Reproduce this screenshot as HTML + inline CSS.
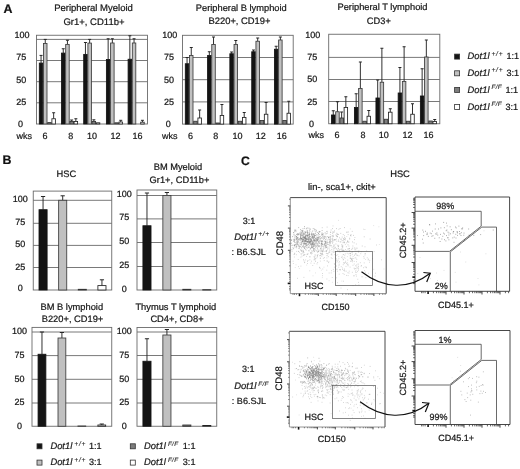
<!DOCTYPE html>
<html><head><meta charset="utf-8"><title>Figure</title>
<style>html,body{margin:0;padding:0;background:#fff}svg{display:block}text{font-family:"Liberation Sans",Arial,Helvetica,sans-serif;stroke:#1a1a1a;stroke-width:0.22px;text-rendering:geometricPrecision}</style>
</head><body>
<svg width="520" height="469" viewBox="0 0 520 469">
<rect width="520" height="469" fill="#fff"/>
<line x1="36.50" y1="39.40" x2="147.50" y2="39.40" stroke="#6a6a6a" stroke-width="0.9"/>
<line x1="36.50" y1="60.50" x2="147.50" y2="60.50" stroke="#6a6a6a" stroke-width="0.9"/>
<line x1="36.50" y1="81.70" x2="147.50" y2="81.70" stroke="#6a6a6a" stroke-width="0.9"/>
<line x1="36.50" y1="102.80" x2="147.50" y2="102.80" stroke="#6a6a6a" stroke-width="0.9"/>
<rect x="36.50" y="35.25" width="111.00" height="88.75" fill="none" stroke="#6a6a6a" stroke-width="0.9"/>
<line x1="41.05" y1="55.40" x2="41.05" y2="63.10" stroke="#262626" stroke-width="0.95"/>
<line x1="39.55" y1="55.40" x2="42.55" y2="55.40" stroke="#262626" stroke-width="1.0"/>
<rect x="39.30" y="63.10" width="3.50" height="60.90" fill="#141414" stroke="#141414" stroke-width="0.85"/>
<line x1="45.25" y1="39.40" x2="45.25" y2="43.50" stroke="#262626" stroke-width="0.95"/>
<line x1="43.75" y1="39.40" x2="46.75" y2="39.40" stroke="#262626" stroke-width="1.0"/>
<rect x="43.50" y="43.50" width="3.50" height="80.50" fill="#c0c0c0" stroke="#3c3c3c" stroke-width="0.85"/>
<rect x="47.70" y="122.60" width="3.50" height="1.40" fill="#7d7d7d" stroke="#333" stroke-width="0.85"/>
<line x1="53.65" y1="112.75" x2="53.65" y2="118.75" stroke="#262626" stroke-width="0.95"/>
<line x1="52.15" y1="112.75" x2="55.15" y2="112.75" stroke="#262626" stroke-width="1.0"/>
<rect x="51.90" y="118.75" width="3.50" height="5.25" fill="#ffffff" stroke="#222" stroke-width="0.85"/>
<line x1="63.25" y1="48.75" x2="63.25" y2="53.10" stroke="#262626" stroke-width="0.95"/>
<line x1="61.75" y1="48.75" x2="64.75" y2="48.75" stroke="#262626" stroke-width="1.0"/>
<rect x="61.50" y="53.10" width="3.50" height="70.90" fill="#141414" stroke="#141414" stroke-width="0.85"/>
<line x1="67.45" y1="40.25" x2="67.45" y2="44.40" stroke="#262626" stroke-width="0.95"/>
<line x1="65.95" y1="40.25" x2="68.95" y2="40.25" stroke="#262626" stroke-width="1.0"/>
<rect x="65.70" y="44.40" width="3.50" height="79.60" fill="#c0c0c0" stroke="#3c3c3c" stroke-width="0.85"/>
<line x1="71.65" y1="120.00" x2="71.65" y2="121.50" stroke="#262626" stroke-width="0.95"/>
<line x1="70.15" y1="120.00" x2="73.15" y2="120.00" stroke="#262626" stroke-width="1.0"/>
<rect x="69.90" y="121.50" width="3.50" height="2.50" fill="#7d7d7d" stroke="#333" stroke-width="0.85"/>
<line x1="75.85" y1="118.75" x2="75.85" y2="121.50" stroke="#262626" stroke-width="0.95"/>
<line x1="74.35" y1="118.75" x2="77.35" y2="118.75" stroke="#262626" stroke-width="1.0"/>
<rect x="74.10" y="121.50" width="3.50" height="2.50" fill="#ffffff" stroke="#222" stroke-width="0.85"/>
<line x1="85.45" y1="42.50" x2="85.45" y2="54.40" stroke="#262626" stroke-width="0.95"/>
<line x1="83.95" y1="42.50" x2="86.95" y2="42.50" stroke="#262626" stroke-width="1.0"/>
<rect x="83.70" y="54.40" width="3.50" height="69.60" fill="#141414" stroke="#141414" stroke-width="0.85"/>
<line x1="89.65" y1="39.40" x2="89.65" y2="43.10" stroke="#262626" stroke-width="0.95"/>
<line x1="88.15" y1="39.40" x2="91.15" y2="39.40" stroke="#262626" stroke-width="1.0"/>
<rect x="87.90" y="43.10" width="3.50" height="80.90" fill="#c0c0c0" stroke="#3c3c3c" stroke-width="0.85"/>
<line x1="93.85" y1="119.80" x2="93.85" y2="121.50" stroke="#262626" stroke-width="0.95"/>
<line x1="92.35" y1="119.80" x2="95.35" y2="119.80" stroke="#262626" stroke-width="1.0"/>
<rect x="92.10" y="121.50" width="3.50" height="2.50" fill="#7d7d7d" stroke="#333" stroke-width="0.85"/>
<rect x="96.30" y="122.80" width="3.50" height="1.20" fill="#ffffff" stroke="#222" stroke-width="0.85"/>
<line x1="108.15" y1="38.75" x2="108.15" y2="59.50" stroke="#262626" stroke-width="0.95"/>
<line x1="106.65" y1="38.75" x2="109.65" y2="38.75" stroke="#262626" stroke-width="1.0"/>
<rect x="106.40" y="59.50" width="3.50" height="64.50" fill="#141414" stroke="#141414" stroke-width="0.85"/>
<line x1="112.35" y1="38.75" x2="112.35" y2="43.00" stroke="#262626" stroke-width="0.95"/>
<line x1="110.85" y1="38.75" x2="113.85" y2="38.75" stroke="#262626" stroke-width="1.0"/>
<rect x="110.60" y="43.00" width="3.50" height="81.00" fill="#c0c0c0" stroke="#3c3c3c" stroke-width="0.85"/>
<rect x="114.80" y="122.80" width="3.50" height="1.20" fill="#7d7d7d" stroke="#333" stroke-width="0.85"/>
<line x1="120.75" y1="120.30" x2="120.75" y2="122.00" stroke="#262626" stroke-width="0.95"/>
<line x1="119.25" y1="120.30" x2="122.25" y2="120.30" stroke="#262626" stroke-width="1.0"/>
<rect x="119.00" y="122.00" width="3.50" height="2.00" fill="#ffffff" stroke="#222" stroke-width="0.85"/>
<line x1="129.85" y1="35.75" x2="129.85" y2="59.25" stroke="#262626" stroke-width="0.95"/>
<line x1="128.35" y1="35.75" x2="131.35" y2="35.75" stroke="#262626" stroke-width="1.0"/>
<rect x="128.10" y="59.25" width="3.50" height="64.75" fill="#141414" stroke="#141414" stroke-width="0.85"/>
<line x1="134.05" y1="38.75" x2="134.05" y2="43.00" stroke="#262626" stroke-width="0.95"/>
<line x1="132.55" y1="38.75" x2="135.55" y2="38.75" stroke="#262626" stroke-width="1.0"/>
<rect x="132.30" y="43.00" width="3.50" height="81.00" fill="#c0c0c0" stroke="#3c3c3c" stroke-width="0.85"/>
<line x1="142.45" y1="120.30" x2="142.45" y2="122.20" stroke="#262626" stroke-width="0.95"/>
<line x1="140.95" y1="120.30" x2="143.95" y2="120.30" stroke="#262626" stroke-width="1.0"/>
<rect x="140.70" y="122.20" width="3.50" height="1.80" fill="#ffffff" stroke="#222" stroke-width="0.85"/>
<line x1="182.50" y1="57.50" x2="293.20" y2="57.50" stroke="#6a6a6a" stroke-width="0.9"/>
<line x1="182.50" y1="79.70" x2="293.20" y2="79.70" stroke="#6a6a6a" stroke-width="0.9"/>
<line x1="182.50" y1="101.90" x2="293.20" y2="101.90" stroke="#6a6a6a" stroke-width="0.9"/>
<rect x="182.50" y="35.30" width="110.70" height="88.80" fill="none" stroke="#6a6a6a" stroke-width="0.9"/>
<line x1="187.05" y1="57.50" x2="187.05" y2="63.75" stroke="#262626" stroke-width="0.95"/>
<line x1="185.55" y1="57.50" x2="188.55" y2="57.50" stroke="#262626" stroke-width="1.0"/>
<rect x="185.30" y="63.75" width="3.50" height="60.35" fill="#141414" stroke="#141414" stroke-width="0.85"/>
<line x1="191.25" y1="47.50" x2="191.25" y2="55.50" stroke="#262626" stroke-width="0.95"/>
<line x1="189.75" y1="47.50" x2="192.75" y2="47.50" stroke="#262626" stroke-width="1.0"/>
<rect x="189.50" y="55.50" width="3.50" height="68.60" fill="#c0c0c0" stroke="#3c3c3c" stroke-width="0.85"/>
<rect x="193.70" y="121.25" width="3.50" height="2.85" fill="#7d7d7d" stroke="#333" stroke-width="0.85"/>
<line x1="199.65" y1="110.00" x2="199.65" y2="118.00" stroke="#262626" stroke-width="0.95"/>
<line x1="198.15" y1="110.00" x2="201.15" y2="110.00" stroke="#262626" stroke-width="1.0"/>
<rect x="197.90" y="118.00" width="3.50" height="6.10" fill="#ffffff" stroke="#222" stroke-width="0.85"/>
<line x1="209.33" y1="51.75" x2="209.33" y2="55.50" stroke="#262626" stroke-width="0.95"/>
<line x1="207.83" y1="51.75" x2="210.83" y2="51.75" stroke="#262626" stroke-width="1.0"/>
<rect x="207.58" y="55.50" width="3.50" height="68.60" fill="#141414" stroke="#141414" stroke-width="0.85"/>
<line x1="213.53" y1="37.00" x2="213.53" y2="44.50" stroke="#262626" stroke-width="0.95"/>
<line x1="212.03" y1="37.00" x2="215.03" y2="37.00" stroke="#262626" stroke-width="1.0"/>
<rect x="211.78" y="44.50" width="3.50" height="79.60" fill="#c0c0c0" stroke="#3c3c3c" stroke-width="0.85"/>
<rect x="215.98" y="123.00" width="3.50" height="1.10" fill="#7d7d7d" stroke="#333" stroke-width="0.85"/>
<line x1="221.93" y1="104.50" x2="221.93" y2="115.50" stroke="#262626" stroke-width="0.95"/>
<line x1="220.43" y1="104.50" x2="223.43" y2="104.50" stroke="#262626" stroke-width="1.0"/>
<rect x="220.18" y="115.50" width="3.50" height="8.60" fill="#ffffff" stroke="#222" stroke-width="0.85"/>
<line x1="231.61" y1="52.00" x2="231.61" y2="53.75" stroke="#262626" stroke-width="0.95"/>
<line x1="230.11" y1="52.00" x2="233.11" y2="52.00" stroke="#262626" stroke-width="1.0"/>
<rect x="229.86" y="53.75" width="3.50" height="70.35" fill="#141414" stroke="#141414" stroke-width="0.85"/>
<line x1="235.81" y1="40.50" x2="235.81" y2="44.50" stroke="#262626" stroke-width="0.95"/>
<line x1="234.31" y1="40.50" x2="237.31" y2="40.50" stroke="#262626" stroke-width="1.0"/>
<rect x="234.06" y="44.50" width="3.50" height="79.60" fill="#c0c0c0" stroke="#3c3c3c" stroke-width="0.85"/>
<rect x="238.26" y="121.25" width="3.50" height="2.85" fill="#7d7d7d" stroke="#333" stroke-width="0.85"/>
<line x1="244.21" y1="112.50" x2="244.21" y2="117.50" stroke="#262626" stroke-width="0.95"/>
<line x1="242.71" y1="112.50" x2="245.71" y2="112.50" stroke="#262626" stroke-width="1.0"/>
<rect x="242.46" y="117.50" width="3.50" height="6.60" fill="#ffffff" stroke="#222" stroke-width="0.85"/>
<line x1="253.49" y1="50.00" x2="253.49" y2="51.75" stroke="#262626" stroke-width="0.95"/>
<line x1="251.99" y1="50.00" x2="254.99" y2="50.00" stroke="#262626" stroke-width="1.0"/>
<rect x="251.74" y="51.75" width="3.50" height="72.35" fill="#141414" stroke="#141414" stroke-width="0.85"/>
<line x1="257.69" y1="38.00" x2="257.69" y2="41.25" stroke="#262626" stroke-width="0.95"/>
<line x1="256.19" y1="38.00" x2="259.19" y2="38.00" stroke="#262626" stroke-width="1.0"/>
<rect x="255.94" y="41.25" width="3.50" height="82.85" fill="#c0c0c0" stroke="#3c3c3c" stroke-width="0.85"/>
<rect x="260.14" y="120.50" width="3.50" height="3.60" fill="#7d7d7d" stroke="#333" stroke-width="0.85"/>
<line x1="266.09" y1="102.50" x2="266.09" y2="114.25" stroke="#262626" stroke-width="0.95"/>
<line x1="264.59" y1="102.50" x2="267.59" y2="102.50" stroke="#262626" stroke-width="1.0"/>
<rect x="264.34" y="114.25" width="3.50" height="9.85" fill="#ffffff" stroke="#222" stroke-width="0.85"/>
<line x1="276.17" y1="46.25" x2="276.17" y2="49.25" stroke="#262626" stroke-width="0.95"/>
<line x1="274.67" y1="46.25" x2="277.67" y2="46.25" stroke="#262626" stroke-width="1.0"/>
<rect x="274.42" y="49.25" width="3.50" height="74.85" fill="#141414" stroke="#141414" stroke-width="0.85"/>
<line x1="280.37" y1="37.00" x2="280.37" y2="40.00" stroke="#262626" stroke-width="0.95"/>
<line x1="278.87" y1="37.00" x2="281.87" y2="37.00" stroke="#262626" stroke-width="1.0"/>
<rect x="278.62" y="40.00" width="3.50" height="84.10" fill="#c0c0c0" stroke="#3c3c3c" stroke-width="0.85"/>
<rect x="282.82" y="120.50" width="3.50" height="3.60" fill="#7d7d7d" stroke="#333" stroke-width="0.85"/>
<line x1="288.77" y1="101.25" x2="288.77" y2="113.25" stroke="#262626" stroke-width="0.95"/>
<line x1="287.27" y1="101.25" x2="290.27" y2="101.25" stroke="#262626" stroke-width="1.0"/>
<rect x="287.02" y="113.25" width="3.50" height="10.85" fill="#ffffff" stroke="#222" stroke-width="0.85"/>
<line x1="328.70" y1="57.40" x2="439.80" y2="57.40" stroke="#6a6a6a" stroke-width="0.9"/>
<line x1="328.70" y1="79.50" x2="439.80" y2="79.50" stroke="#6a6a6a" stroke-width="0.9"/>
<line x1="328.70" y1="101.50" x2="439.80" y2="101.50" stroke="#6a6a6a" stroke-width="0.9"/>
<rect x="328.70" y="34.25" width="111.10" height="89.50" fill="none" stroke="#6a6a6a" stroke-width="0.9"/>
<line x1="333.25" y1="110.75" x2="333.25" y2="115.00" stroke="#262626" stroke-width="0.95"/>
<line x1="331.75" y1="110.75" x2="334.75" y2="110.75" stroke="#262626" stroke-width="1.0"/>
<rect x="331.50" y="115.00" width="3.50" height="8.75" fill="#141414" stroke="#141414" stroke-width="0.85"/>
<line x1="337.45" y1="101.75" x2="337.45" y2="111.75" stroke="#262626" stroke-width="0.95"/>
<line x1="335.95" y1="101.75" x2="338.95" y2="101.75" stroke="#262626" stroke-width="1.0"/>
<rect x="335.70" y="111.75" width="3.50" height="12.00" fill="#c0c0c0" stroke="#3c3c3c" stroke-width="0.85"/>
<line x1="341.65" y1="112.00" x2="341.65" y2="118.00" stroke="#262626" stroke-width="0.95"/>
<line x1="340.15" y1="112.00" x2="343.15" y2="112.00" stroke="#262626" stroke-width="1.0"/>
<rect x="339.90" y="118.00" width="3.50" height="5.75" fill="#7d7d7d" stroke="#333" stroke-width="0.85"/>
<line x1="345.85" y1="96.75" x2="345.85" y2="107.50" stroke="#262626" stroke-width="0.95"/>
<line x1="344.35" y1="96.75" x2="347.35" y2="96.75" stroke="#262626" stroke-width="1.0"/>
<rect x="344.10" y="107.50" width="3.50" height="16.25" fill="#ffffff" stroke="#222" stroke-width="0.85"/>
<line x1="356.17" y1="93.75" x2="356.17" y2="107.50" stroke="#262626" stroke-width="0.95"/>
<line x1="354.67" y1="93.75" x2="357.67" y2="93.75" stroke="#262626" stroke-width="1.0"/>
<rect x="354.42" y="107.50" width="3.50" height="16.25" fill="#141414" stroke="#141414" stroke-width="0.85"/>
<line x1="360.37" y1="62.00" x2="360.37" y2="88.50" stroke="#262626" stroke-width="0.95"/>
<line x1="358.87" y1="62.00" x2="361.87" y2="62.00" stroke="#262626" stroke-width="1.0"/>
<rect x="358.62" y="88.50" width="3.50" height="35.25" fill="#c0c0c0" stroke="#3c3c3c" stroke-width="0.85"/>
<rect x="362.82" y="121.25" width="3.50" height="2.50" fill="#7d7d7d" stroke="#333" stroke-width="0.85"/>
<line x1="368.77" y1="110.50" x2="368.77" y2="116.25" stroke="#262626" stroke-width="0.95"/>
<line x1="367.27" y1="110.50" x2="370.27" y2="110.50" stroke="#262626" stroke-width="1.0"/>
<rect x="367.02" y="116.25" width="3.50" height="7.50" fill="#ffffff" stroke="#222" stroke-width="0.85"/>
<line x1="377.69" y1="80.00" x2="377.69" y2="98.00" stroke="#262626" stroke-width="0.95"/>
<line x1="376.19" y1="80.00" x2="379.19" y2="80.00" stroke="#262626" stroke-width="1.0"/>
<rect x="375.94" y="98.00" width="3.50" height="25.75" fill="#141414" stroke="#141414" stroke-width="0.85"/>
<line x1="381.89" y1="48.25" x2="381.89" y2="82.25" stroke="#262626" stroke-width="0.95"/>
<line x1="380.39" y1="48.25" x2="383.39" y2="48.25" stroke="#262626" stroke-width="1.0"/>
<rect x="380.14" y="82.25" width="3.50" height="41.50" fill="#c0c0c0" stroke="#3c3c3c" stroke-width="0.85"/>
<rect x="384.34" y="119.25" width="3.50" height="4.50" fill="#7d7d7d" stroke="#333" stroke-width="0.85"/>
<line x1="390.29" y1="108.75" x2="390.29" y2="112.20" stroke="#262626" stroke-width="0.95"/>
<line x1="388.79" y1="108.75" x2="391.79" y2="108.75" stroke="#262626" stroke-width="1.0"/>
<rect x="388.54" y="112.20" width="3.50" height="11.55" fill="#ffffff" stroke="#222" stroke-width="0.85"/>
<line x1="399.91" y1="67.50" x2="399.91" y2="93.00" stroke="#262626" stroke-width="0.95"/>
<line x1="398.41" y1="67.50" x2="401.41" y2="67.50" stroke="#262626" stroke-width="1.0"/>
<rect x="398.16" y="93.00" width="3.50" height="30.75" fill="#141414" stroke="#141414" stroke-width="0.85"/>
<line x1="404.11" y1="46.75" x2="404.11" y2="81.50" stroke="#262626" stroke-width="0.95"/>
<line x1="402.61" y1="46.75" x2="405.61" y2="46.75" stroke="#262626" stroke-width="1.0"/>
<rect x="402.36" y="81.50" width="3.50" height="42.25" fill="#c0c0c0" stroke="#3c3c3c" stroke-width="0.85"/>
<rect x="406.56" y="121.25" width="3.50" height="2.50" fill="#7d7d7d" stroke="#333" stroke-width="0.85"/>
<line x1="412.51" y1="103.75" x2="412.51" y2="114.25" stroke="#262626" stroke-width="0.95"/>
<line x1="411.01" y1="103.75" x2="414.01" y2="103.75" stroke="#262626" stroke-width="1.0"/>
<rect x="410.76" y="114.25" width="3.50" height="9.50" fill="#ffffff" stroke="#222" stroke-width="0.85"/>
<line x1="422.13" y1="68.75" x2="422.13" y2="96.00" stroke="#262626" stroke-width="0.95"/>
<line x1="420.63" y1="68.75" x2="423.63" y2="68.75" stroke="#262626" stroke-width="1.0"/>
<rect x="420.38" y="96.00" width="3.50" height="27.75" fill="#141414" stroke="#141414" stroke-width="0.85"/>
<line x1="426.33" y1="40.00" x2="426.33" y2="57.00" stroke="#262626" stroke-width="0.95"/>
<line x1="424.83" y1="40.00" x2="427.83" y2="40.00" stroke="#262626" stroke-width="1.0"/>
<rect x="424.58" y="57.00" width="3.50" height="66.75" fill="#c0c0c0" stroke="#3c3c3c" stroke-width="0.85"/>
<rect x="428.78" y="121.00" width="3.50" height="2.75" fill="#7d7d7d" stroke="#333" stroke-width="0.85"/>
<line x1="434.73" y1="119.50" x2="434.73" y2="121.50" stroke="#262626" stroke-width="0.95"/>
<line x1="433.23" y1="119.50" x2="436.23" y2="119.50" stroke="#262626" stroke-width="1.0"/>
<rect x="432.98" y="121.50" width="3.50" height="2.25" fill="#ffffff" stroke="#222" stroke-width="0.85"/>
<text x="22.0" y="38.3" font-size="9" text-anchor="middle" fill="#151515" >100</text>
<text x="21.3" y="60.3" font-size="9" text-anchor="middle" fill="#151515" >75</text>
<text x="21.3" y="82.7" font-size="9" text-anchor="middle" fill="#151515" >50</text>
<text x="21.3" y="105.0" font-size="9" text-anchor="middle" fill="#151515" >25</text>
<text x="20.5" y="127.2" font-size="9" text-anchor="middle" fill="#151515" >0</text>
<text x="169.7" y="37.8" font-size="9" text-anchor="middle" fill="#151515" >100</text>
<text x="169.0" y="60.1" font-size="9" text-anchor="middle" fill="#151515" >75</text>
<text x="169.0" y="82.7" font-size="9" text-anchor="middle" fill="#151515" >50</text>
<text x="169.0" y="105.0" font-size="9" text-anchor="middle" fill="#151515" >25</text>
<text x="168.2" y="127.0" font-size="9" text-anchor="middle" fill="#151515" >0</text>
<text x="312.8" y="37.6" font-size="9" text-anchor="middle" fill="#151515" >100</text>
<text x="312.3" y="59.5" font-size="9" text-anchor="middle" fill="#151515" >75</text>
<text x="312.2" y="81.7" font-size="9" text-anchor="middle" fill="#151515" >50</text>
<text x="312.3" y="104.5" font-size="9" text-anchor="middle" fill="#151515" >25</text>
<text x="311.40000000000003" y="126.8" font-size="9" text-anchor="middle" fill="#151515" >0</text>
<text x="32.1" y="139.1" font-size="9" text-anchor="end" fill="#151515" >wks</text>
<text x="45" y="139.1" font-size="9" text-anchor="middle" fill="#151515" >6</text>
<text x="70.75" y="139.1" font-size="9" text-anchor="middle" fill="#151515" >8</text>
<text x="92" y="139.1" font-size="9" text-anchor="middle" fill="#151515" >10</text>
<text x="115.5" y="139.1" font-size="9" text-anchor="middle" fill="#151515" >12</text>
<text x="137.4" y="139.1" font-size="9" text-anchor="middle" fill="#151515" >16</text>
<text x="177.4" y="138.9" font-size="9" text-anchor="end" fill="#151515" >wks</text>
<text x="190.5" y="138.9" font-size="9" text-anchor="middle" fill="#151515" >6</text>
<text x="215.75" y="138.9" font-size="9" text-anchor="middle" fill="#151515" >8</text>
<text x="237.5" y="138.9" font-size="9" text-anchor="middle" fill="#151515" >10</text>
<text x="260.75" y="138.9" font-size="9" text-anchor="middle" fill="#151515" >12</text>
<text x="281.75" y="138.9" font-size="9" text-anchor="middle" fill="#151515" >16</text>
<text x="324.05" y="138.1" font-size="9" text-anchor="end" fill="#151515" >wks</text>
<text x="337" y="138.1" font-size="9" text-anchor="middle" fill="#151515" >6</text>
<text x="363" y="138.1" font-size="9" text-anchor="middle" fill="#151515" >8</text>
<text x="383.75" y="138.1" font-size="9" text-anchor="middle" fill="#151515" >10</text>
<text x="407.4" y="138.1" font-size="9" text-anchor="middle" fill="#151515" >12</text>
<text x="428.5" y="138.1" font-size="9" text-anchor="middle" fill="#151515" >16</text>
<text x="93.5" y="10.5" font-size="9.5" text-anchor="middle" fill="#151515" >Peripheral Myeloid</text>
<text x="94" y="24.5" font-size="9.5" text-anchor="middle" fill="#151515" >Gr1+, CD11b+</text>
<text x="241.3" y="10.6" font-size="9.3" text-anchor="middle" fill="#151515" >Peripheral B lymphoid</text>
<text x="239.5" y="24.3" font-size="9.4" text-anchor="middle" fill="#151515" >B220+, CD19+</text>
<text x="382.5" y="10.4" font-size="9.3" text-anchor="middle" fill="#151515" >Peripheral T lymphoid</text>
<text x="378.8" y="24.3" font-size="9.3" text-anchor="middle" fill="#151515" >CD3+</text>
<text x="3.4" y="12.6" font-size="12.4" text-anchor="start" fill="#111" font-weight="bold">A</text>
<text x="2.6" y="163.6" font-size="12.4" text-anchor="start" fill="#111" font-weight="bold">B</text>
<text x="241" y="164.8" font-size="12.2" text-anchor="start" fill="#111" font-weight="bold">C</text>
<rect x="454.60" y="54.10" width="5.00" height="5.00" fill="#141414" stroke="#333" stroke-width="0.8"/>
<text x="467.6" y="59.3" font-size="9.4" fill="#222"><tspan font-style="italic">Dot1l</tspan><tspan font-style="italic" font-size="6.7" dx="2.0" dy="-3.7" letter-spacing="0.7" stroke-width="0.1">+/+</tspan></text>
<text x="506.4" y="59.3" font-size="9.1" text-anchor="start" fill="#151515" >1:1</text>
<rect x="454.60" y="70.80" width="5.00" height="5.00" fill="#c0c0c0" stroke="#333" stroke-width="0.8"/>
<text x="467.6" y="75.7" font-size="9.4" fill="#222"><tspan font-style="italic">Dot1l</tspan><tspan font-style="italic" font-size="6.7" dx="2.0" dy="-3.7" letter-spacing="0.7" stroke-width="0.1">+/+</tspan></text>
<text x="506.4" y="75.7" font-size="9.1" text-anchor="start" fill="#151515" >3:1</text>
<rect x="454.60" y="87.40" width="5.00" height="5.00" fill="#7d7d7d" stroke="#333" stroke-width="0.8"/>
<text x="467.6" y="92.6" font-size="9.4" fill="#222"><tspan font-style="italic">Dot1l</tspan><tspan font-style="italic" font-size="6.3" dx="2.0" dy="-3.7" letter-spacing="0.35" stroke-width="0.1">F/F</tspan></text>
<text x="505.5" y="92.6" font-size="9.1" text-anchor="start" fill="#151515" >1:1</text>
<rect x="454.60" y="104.40" width="5.00" height="5.00" fill="#ffffff" stroke="#333" stroke-width="0.8"/>
<text x="467.6" y="109.6" font-size="9.4" fill="#222"><tspan font-style="italic">Dot1l</tspan><tspan font-style="italic" font-size="6.3" dx="2.0" dy="-3.7" letter-spacing="0.35" stroke-width="0.1">F/F</tspan></text>
<text x="505.5" y="109.6" font-size="9.1" text-anchor="start" fill="#151515" >3:1</text>
<rect x="37.00" y="443.80" width="5.00" height="5.00" fill="#141414" stroke="#333" stroke-width="0.8"/>
<text x="50.4" y="449.2" font-size="9.4" fill="#222"><tspan font-style="italic">Dot1l</tspan><tspan font-style="italic" font-size="6.7" dx="2.0" dy="-3.7" letter-spacing="0.7" stroke-width="0.1">+/+</tspan></text>
<text x="89.0" y="449.2" font-size="9.1" text-anchor="start" fill="#151515" >1:1</text>
<rect x="37.00" y="460.10" width="5.00" height="5.00" fill="#c0c0c0" stroke="#333" stroke-width="0.8"/>
<text x="50.4" y="465.4" font-size="9.4" fill="#222"><tspan font-style="italic">Dot1l</tspan><tspan font-style="italic" font-size="6.7" dx="2.0" dy="-3.7" letter-spacing="0.7" stroke-width="0.1">+/+</tspan></text>
<text x="89.0" y="465.4" font-size="9.1" text-anchor="start" fill="#151515" >3:1</text>
<rect x="130.30" y="443.80" width="5.00" height="5.00" fill="#7d7d7d" stroke="#333" stroke-width="0.8"/>
<text x="144.0" y="449.2" font-size="9.4" fill="#222"><tspan font-style="italic">Dot1l</tspan><tspan font-style="italic" font-size="6.3" dx="2.0" dy="-3.7" letter-spacing="0.35" stroke-width="0.1">F/F</tspan></text>
<text x="182.8" y="449.2" font-size="9.1" text-anchor="start" fill="#151515" >1:1</text>
<rect x="130.30" y="460.10" width="5.00" height="5.00" fill="#ffffff" stroke="#333" stroke-width="0.8"/>
<text x="144.0" y="465.4" font-size="9.4" fill="#222"><tspan font-style="italic">Dot1l</tspan><tspan font-style="italic" font-size="6.3" dx="2.0" dy="-3.7" letter-spacing="0.35" stroke-width="0.1">F/F</tspan></text>
<text x="182.8" y="465.4" font-size="9.1" text-anchor="start" fill="#151515" >3:1</text>
<line x1="33.25" y1="200.30" x2="111.75" y2="200.30" stroke="#6a6a6a" stroke-width="0.9"/>
<line x1="33.25" y1="223.30" x2="111.75" y2="223.30" stroke="#6a6a6a" stroke-width="0.9"/>
<line x1="33.25" y1="245.40" x2="111.75" y2="245.40" stroke="#6a6a6a" stroke-width="0.9"/>
<line x1="33.25" y1="267.50" x2="111.75" y2="267.50" stroke="#6a6a6a" stroke-width="0.9"/>
<rect x="33.25" y="191.10" width="78.50" height="98.90" fill="none" stroke="#6a6a6a" stroke-width="0.9"/>
<line x1="43.06" y1="196.50" x2="43.06" y2="209.70" stroke="#262626" stroke-width="0.95"/>
<line x1="40.96" y1="196.50" x2="45.16" y2="196.50" stroke="#262626" stroke-width="1.0"/>
<rect x="39.01" y="209.70" width="8.10" height="80.30" fill="#141414" stroke="#141414" stroke-width="0.85"/>
<line x1="62.69" y1="195.80" x2="62.69" y2="200.30" stroke="#262626" stroke-width="0.95"/>
<line x1="60.59" y1="195.80" x2="64.79" y2="195.80" stroke="#262626" stroke-width="1.0"/>
<rect x="58.64" y="200.30" width="8.10" height="89.70" fill="#c0c0c0" stroke="#3c3c3c" stroke-width="0.85"/>
<rect x="78.26" y="289.30" width="8.10" height="0.70" fill="#7d7d7d" stroke="#333" stroke-width="0.85"/>
<line x1="101.94" y1="279.80" x2="101.94" y2="285.60" stroke="#262626" stroke-width="0.95"/>
<line x1="99.84" y1="279.80" x2="104.04" y2="279.80" stroke="#262626" stroke-width="1.0"/>
<rect x="97.89" y="285.60" width="8.10" height="4.40" fill="#ffffff" stroke="#222" stroke-width="0.85"/>
<line x1="137.00" y1="195.50" x2="216.75" y2="195.50" stroke="#6a6a6a" stroke-width="0.9"/>
<line x1="137.00" y1="218.90" x2="216.75" y2="218.90" stroke="#6a6a6a" stroke-width="0.9"/>
<line x1="137.00" y1="242.50" x2="216.75" y2="242.50" stroke="#6a6a6a" stroke-width="0.9"/>
<line x1="137.00" y1="266.50" x2="216.75" y2="266.50" stroke="#6a6a6a" stroke-width="0.9"/>
<rect x="137.00" y="190.00" width="79.75" height="100.00" fill="none" stroke="#6a6a6a" stroke-width="0.9"/>
<line x1="146.97" y1="193.00" x2="146.97" y2="225.75" stroke="#262626" stroke-width="0.95"/>
<line x1="144.87" y1="193.00" x2="149.07" y2="193.00" stroke="#262626" stroke-width="1.0"/>
<rect x="142.92" y="225.75" width="8.10" height="64.25" fill="#141414" stroke="#141414" stroke-width="0.85"/>
<line x1="166.91" y1="192.50" x2="166.91" y2="195.50" stroke="#262626" stroke-width="0.95"/>
<line x1="164.81" y1="192.50" x2="169.01" y2="192.50" stroke="#262626" stroke-width="1.0"/>
<rect x="162.86" y="195.50" width="8.10" height="94.50" fill="#c0c0c0" stroke="#3c3c3c" stroke-width="0.85"/>
<rect x="182.79" y="289.30" width="8.10" height="0.70" fill="#7d7d7d" stroke="#333" stroke-width="0.85"/>
<rect x="202.73" y="289.70" width="8.10" height="0.30" fill="#ffffff" stroke="#222" stroke-width="0.85"/>
<line x1="32.00" y1="332.00" x2="111.75" y2="332.00" stroke="#6a6a6a" stroke-width="0.9"/>
<line x1="32.00" y1="355.60" x2="111.75" y2="355.60" stroke="#6a6a6a" stroke-width="0.9"/>
<line x1="32.00" y1="379.30" x2="111.75" y2="379.30" stroke="#6a6a6a" stroke-width="0.9"/>
<line x1="32.00" y1="403.00" x2="111.75" y2="403.00" stroke="#6a6a6a" stroke-width="0.9"/>
<rect x="32.00" y="327.40" width="79.75" height="98.85" fill="none" stroke="#6a6a6a" stroke-width="0.9"/>
<line x1="41.97" y1="332.00" x2="41.97" y2="354.25" stroke="#262626" stroke-width="0.95"/>
<line x1="39.87" y1="332.00" x2="44.07" y2="332.00" stroke="#262626" stroke-width="1.0"/>
<rect x="38.07" y="354.25" width="7.80" height="72.00" fill="#141414" stroke="#141414" stroke-width="0.85"/>
<line x1="61.91" y1="332.50" x2="61.91" y2="338.00" stroke="#262626" stroke-width="0.95"/>
<line x1="59.81" y1="332.50" x2="64.01" y2="332.50" stroke="#262626" stroke-width="1.0"/>
<rect x="58.01" y="338.00" width="7.80" height="88.25" fill="#c0c0c0" stroke="#3c3c3c" stroke-width="0.85"/>
<rect x="77.94" y="426.00" width="7.80" height="0.25" fill="#7d7d7d" stroke="#333" stroke-width="0.85"/>
<line x1="101.78" y1="424.00" x2="101.78" y2="425.00" stroke="#262626" stroke-width="0.95"/>
<line x1="99.68" y1="424.00" x2="103.88" y2="424.00" stroke="#262626" stroke-width="1.0"/>
<rect x="97.88" y="425.00" width="7.80" height="1.25" fill="#ffffff" stroke="#222" stroke-width="0.85"/>
<line x1="137.00" y1="332.00" x2="216.75" y2="332.00" stroke="#6a6a6a" stroke-width="0.9"/>
<line x1="137.00" y1="355.50" x2="216.75" y2="355.50" stroke="#6a6a6a" stroke-width="0.9"/>
<line x1="137.00" y1="379.30" x2="216.75" y2="379.30" stroke="#6a6a6a" stroke-width="0.9"/>
<line x1="137.00" y1="403.00" x2="216.75" y2="403.00" stroke="#6a6a6a" stroke-width="0.9"/>
<rect x="137.00" y="327.50" width="79.75" height="98.75" fill="none" stroke="#6a6a6a" stroke-width="0.9"/>
<line x1="146.97" y1="338.75" x2="146.97" y2="361.25" stroke="#262626" stroke-width="0.95"/>
<line x1="144.87" y1="338.75" x2="149.07" y2="338.75" stroke="#262626" stroke-width="1.0"/>
<rect x="142.92" y="361.25" width="8.10" height="65.00" fill="#141414" stroke="#141414" stroke-width="0.85"/>
<line x1="166.91" y1="329.50" x2="166.91" y2="335.00" stroke="#262626" stroke-width="0.95"/>
<line x1="164.81" y1="329.50" x2="169.01" y2="329.50" stroke="#262626" stroke-width="1.0"/>
<rect x="162.86" y="335.00" width="8.10" height="91.25" fill="#c0c0c0" stroke="#3c3c3c" stroke-width="0.85"/>
<rect x="182.79" y="425.00" width="8.10" height="1.25" fill="#7d7d7d" stroke="#333" stroke-width="0.85"/>
<rect x="202.73" y="425.50" width="8.10" height="0.75" fill="#ffffff" stroke="#222" stroke-width="0.85"/>
<text x="20.2" y="201.8" font-size="9" text-anchor="middle" fill="#151515" >100</text>
<text x="20.2" y="224.8" font-size="9" text-anchor="middle" fill="#151515" >75</text>
<text x="20.2" y="246.5" font-size="9" text-anchor="middle" fill="#151515" >50</text>
<text x="20.2" y="269.6" font-size="9" text-anchor="middle" fill="#151515" >25</text>
<text x="20.2" y="291.2" font-size="9" text-anchor="middle" fill="#151515" >0</text>
<text x="124.2" y="197.4" font-size="9" text-anchor="middle" fill="#151515" >100</text>
<text x="124.2" y="220.3" font-size="9" text-anchor="middle" fill="#151515" >75</text>
<text x="124.2" y="244.0" font-size="9" text-anchor="middle" fill="#151515" >50</text>
<text x="124.2" y="268.0" font-size="9" text-anchor="middle" fill="#151515" >25</text>
<text x="124.2" y="291.8" font-size="9" text-anchor="middle" fill="#151515" >0</text>
<text x="19.5" y="334.4" font-size="9" text-anchor="middle" fill="#151515" >100</text>
<text x="19.5" y="357.9" font-size="9" text-anchor="middle" fill="#151515" >75</text>
<text x="19.5" y="381.5" font-size="9" text-anchor="middle" fill="#151515" >50</text>
<text x="19.5" y="405.2" font-size="9" text-anchor="middle" fill="#151515" >25</text>
<text x="19.5" y="428.5" font-size="9" text-anchor="middle" fill="#151515" >0</text>
<text x="124.3" y="334.4" font-size="9" text-anchor="middle" fill="#151515" >100</text>
<text x="124.3" y="358.2" font-size="9" text-anchor="middle" fill="#151515" >75</text>
<text x="124.3" y="381.5" font-size="9" text-anchor="middle" fill="#151515" >50</text>
<text x="124.3" y="404.7" font-size="9" text-anchor="middle" fill="#151515" >25</text>
<text x="124.3" y="428.8" font-size="9" text-anchor="middle" fill="#151515" >0</text>
<text x="66.3" y="177.0" font-size="9.3" text-anchor="middle" fill="#151515" >HSC</text>
<text x="178" y="170.2" font-size="9.3" text-anchor="middle" fill="#151515" >BM Myeloid</text>
<text x="179.5" y="182.8" font-size="9.3" text-anchor="middle" fill="#151515" >Gr1+, CD11b+</text>
<text x="71.8" y="309.5" font-size="9.3" text-anchor="middle" fill="#151515" >BM B lymphoid</text>
<text x="72.5" y="322.0" font-size="9.3" text-anchor="middle" fill="#151515" >B220+, CD19+</text>
<text x="175.8" y="309.5" font-size="9.3" text-anchor="middle" fill="#151515" >Thymus T lymphoid</text>
<text x="177" y="322.0" font-size="9.3" text-anchor="middle" fill="#151515" >CD4+, CD8+</text>
<text x="400" y="176.6" font-size="9.3" text-anchor="middle" fill="#151515" >HSC</text>
<text x="308" y="190" font-size="9.4" text-anchor="start" fill="#151515" >lin-, sca1+, ckit+</text>
<path d="M293.9 232.9h0.01M312.6 244.3h0.01M294.0 241.0h0.01M318.5 242.8h0.01M303.6 240.1h0.01M313.9 239.2h0.01M309.3 237.2h0.01M312.4 236.7h0.01M305.4 237.1h0.01M301.4 235.3h0.01M313.3 236.8h0.01M304.4 237.2h0.01M298.8 239.0h0.01M312.8 237.9h0.01M296.6 237.0h0.01M298.4 234.1h0.01M318.3 241.7h0.01M307.6 235.5h0.01M314.1 236.8h0.01M317.8 239.5h0.01M311.4 240.6h0.01M314.8 239.8h0.01M302.5 239.8h0.01M298.4 251.4h0.01M315.8 231.7h0.01M300.4 236.9h0.01M320.0 240.2h0.01M306.7 245.2h0.01M318.4 233.6h0.01M311.9 245.2h0.01M307.7 228.0h0.01M313.6 248.9h0.01M317.3 232.5h0.01M308.6 234.9h0.01M297.7 234.0h0.01M308.1 235.6h0.01M309.3 239.2h0.01M305.1 240.5h0.01M307.4 231.8h0.01M314.6 235.4h0.01M306.9 239.3h0.01M317.9 240.4h0.01M308.5 241.3h0.01M306.0 245.5h0.01M308.2 244.1h0.01M303.6 236.0h0.01M298.0 237.4h0.01M300.5 234.1h0.01M303.1 237.3h0.01M296.2 243.6h0.01M304.5 228.3h0.01M321.8 242.0h0.01M303.0 228.7h0.01M300.6 234.5h0.01M294.7 244.9h0.01M293.0 245.2h0.01M311.5 239.6h0.01M312.4 235.9h0.01M301.5 243.3h0.01M309.7 242.3h0.01M326.7 247.0h0.01M299.9 243.0h0.01M296.2 239.0h0.01M297.1 244.7h0.01M310.3 239.2h0.01M301.3 241.9h0.01M311.4 246.9h0.01M313.1 234.5h0.01M310.4 239.1h0.01M303.7 242.2h0.01M302.6 241.5h0.01M301.2 238.5h0.01M302.5 240.9h0.01M300.9 236.2h0.01M301.3 230.4h0.01M305.9 238.3h0.01M305.5 232.2h0.01M316.7 234.8h0.01M318.4 233.3h0.01M305.6 240.2h0.01M302.8 235.0h0.01M310.3 240.4h0.01M305.0 243.9h0.01M313.7 237.2h0.01M308.3 238.3h0.01M307.3 236.2h0.01M310.7 236.8h0.01M306.2 237.9h0.01M303.7 233.8h0.01M303.6 239.4h0.01M321.3 241.0h0.01M305.7 239.9h0.01M309.2 242.5h0.01M304.4 234.0h0.01M308.1 241.3h0.01M308.0 238.7h0.01M312.7 243.6h0.01M296.3 236.5h0.01M312.8 238.3h0.01M305.4 233.0h0.01M305.6 236.1h0.01M295.3 235.7h0.01M314.2 237.3h0.01M305.2 238.3h0.01M319.3 237.2h0.01M313.8 234.9h0.01M301.7 238.5h0.01M304.2 246.7h0.01M295.9 231.6h0.01M294.7 242.3h0.01M292.6 236.6h0.01M311.9 250.9h0.01M314.5 240.8h0.01M311.9 237.5h0.01M302.5 231.6h0.01M307.6 239.3h0.01M318.1 238.0h0.01M304.2 239.9h0.01M311.4 234.0h0.01M300.4 238.1h0.01M294.4 245.1h0.01M322.8 241.7h0.01M300.9 238.2h0.01M297.1 238.8h0.01M306.5 228.3h0.01M306.3 239.5h0.01M293.5 232.5h0.01M317.3 239.6h0.01M318.3 238.0h0.01M314.9 245.1h0.01M305.2 238.6h0.01M313.2 242.9h0.01M312.8 241.8h0.01M305.8 234.4h0.01M304.5 237.7h0.01M304.5 226.5h0.01M311.5 245.8h0.01M303.0 230.8h0.01M306.1 241.5h0.01M307.7 236.3h0.01M309.6 234.4h0.01M311.1 243.8h0.01M300.6 238.0h0.01M312.7 237.4h0.01M298.9 239.9h0.01M317.9 234.9h0.01M297.0 238.1h0.01M305.5 240.3h0.01M322.4 234.4h0.01M300.7 249.9h0.01M294.4 231.2h0.01M299.1 234.3h0.01M306.8 235.3h0.01M296.8 234.6h0.01M300.4 229.6h0.01M303.3 237.4h0.01M307.9 234.9h0.01M299.6 239.8h0.01M309.9 231.2h0.01M303.9 237.2h0.01M294.9 237.3h0.01M291.6 243.2h0.01M297.4 240.1h0.01M307.5 233.0h0.01M311.3 244.5h0.01M309.2 236.8h0.01M310.9 241.1h0.01M309.7 234.5h0.01M294.3 240.7h0.01M313.2 234.1h0.01M325.7 247.8h0.01M302.5 240.0h0.01M303.9 244.6h0.01M316.7 238.9h0.01M309.1 232.4h0.01M294.2 239.0h0.01M305.2 241.8h0.01M291.9 245.4h0.01M298.8 244.4h0.01M297.9 242.1h0.01M306.2 239.6h0.01M307.6 245.0h0.01M303.9 241.3h0.01M296.0 239.9h0.01M314.0 235.5h0.01M315.3 240.4h0.01M328.8 237.8h0.01M304.4 241.5h0.01M302.6 241.4h0.01M304.9 238.3h0.01M318.7 237.9h0.01M291.4 239.8h0.01M305.4 237.8h0.01M315.5 238.3h0.01M309.5 242.0h0.01M321.4 243.4h0.01M307.0 234.9h0.01M305.6 235.9h0.01M313.7 244.3h0.01M309.9 238.7h0.01M311.0 240.9h0.01M313.2 228.6h0.01M309.8 243.5h0.01M322.1 230.5h0.01M302.8 235.5h0.01M294.4 245.6h0.01M302.0 231.2h0.01M294.0 234.5h0.01M298.3 239.3h0.01M306.0 243.2h0.01M311.8 243.4h0.01M303.1 239.8h0.01M301.9 238.5h0.01M310.5 248.3h0.01M314.4 229.1h0.01M304.8 237.0h0.01M303.0 241.5h0.01M302.4 232.7h0.01M306.1 243.5h0.01M309.2 237.8h0.01M306.5 241.6h0.01M306.4 240.6h0.01M321.1 243.9h0.01M306.1 243.8h0.01M307.5 241.3h0.01M305.8 232.3h0.01M317.4 238.1h0.01M301.9 238.0h0.01M314.0 240.2h0.01M301.7 234.3h0.01M298.7 246.0h0.01M313.5 238.1h0.01M306.5 235.9h0.01M299.4 246.1h0.01M294.7 230.1h0.01M304.4 240.8h0.01M308.6 244.3h0.01M297.5 235.0h0.01M312.0 242.1h0.01M320.4 248.6h0.01M296.3 236.5h0.01M324.6 244.0h0.01M309.2 233.8h0.01M304.5 234.0h0.01M324.7 238.1h0.01M308.4 237.4h0.01M312.7 243.4h0.01M314.3 240.6h0.01M316.3 240.1h0.01M301.4 232.7h0.01M296.8 242.3h0.01M309.0 238.1h0.01M314.8 243.9h0.01M310.4 241.9h0.01M305.3 246.4h0.01M312.6 247.7h0.01M307.9 239.1h0.01M312.0 247.2h0.01M308.0 241.8h0.01M303.7 233.6h0.01M300.7 237.6h0.01M313.1 242.7h0.01M312.0 247.6h0.01M300.7 233.0h0.01M315.4 235.5h0.01M321.7 243.5h0.01M313.7 240.8h0.01M300.8 235.6h0.01M301.5 244.7h0.01M316.9 241.9h0.01M296.8 239.6h0.01M302.1 243.0h0.01M307.2 241.7h0.01M310.3 244.2h0.01M308.6 240.0h0.01M306.0 238.7h0.01M310.5 241.3h0.01M300.8 235.8h0.01M308.7 239.9h0.01M314.3 234.8h0.01M301.3 233.3h0.01M300.5 246.3h0.01M291.9 249.7h0.01M301.4 239.9h0.01M307.9 235.0h0.01M327.0 244.2h0.01M312.6 231.1h0.01M320.7 238.4h0.01M298.7 234.8h0.01M304.6 248.3h0.01M305.1 238.1h0.01M312.0 241.3h0.01M306.1 239.1h0.01M309.3 235.9h0.01M305.7 241.2h0.01M294.0 241.5h0.01M322.0 241.5h0.01M319.9 231.5h0.01M309.3 242.2h0.01M311.4 234.0h0.01M301.1 239.5h0.01M307.5 233.1h0.01M316.8 240.1h0.01M312.7 236.6h0.01M303.5 234.6h0.01M305.7 249.2h0.01M305.0 243.8h0.01M299.5 247.0h0.01M305.5 236.5h0.01M309.7 233.3h0.01M304.8 243.6h0.01M312.5 234.9h0.01M317.6 240.6h0.01M304.6 232.0h0.01M304.3 237.5h0.01M313.1 244.1h0.01M297.9 233.8h0.01M296.0 244.6h0.01M313.2 244.0h0.01M303.1 245.7h0.01M296.9 241.3h0.01M314.2 245.9h0.01M302.6 230.6h0.01M291.6 240.5h0.01M303.6 246.1h0.01M311.2 234.8h0.01M294.1 235.9h0.01M323.4 238.1h0.01M322.3 244.2h0.01M306.9 246.1h0.01M307.4 242.6h0.01M304.3 238.1h0.01M295.9 230.3h0.01M322.3 244.6h0.01M303.3 238.3h0.01M319.3 234.5h0.01M307.3 241.5h0.01M315.1 229.7h0.01M315.9 241.0h0.01M309.7 241.7h0.01M297.1 237.4h0.01M297.7 241.2h0.01M309.4 235.0h0.01M300.4 244.4h0.01M309.9 229.2h0.01M311.4 235.2h0.01M311.8 240.2h0.01M316.5 230.8h0.01M307.5 230.9h0.01M299.7 233.1h0.01M309.5 240.2h0.01M316.5 239.1h0.01M294.9 246.0h0.01M328.7 237.6h0.01M302.7 233.9h0.01M310.2 238.9h0.01M294.2 239.5h0.01M302.4 246.6h0.01M316.4 237.2h0.01M315.5 233.3h0.01M303.5 243.5h0.01M303.4 239.9h0.01M307.3 232.7h0.01M311.7 240.0h0.01M311.0 236.6h0.01M297.2 242.8h0.01M312.1 244.8h0.01M314.8 240.0h0.01M306.2 238.6h0.01M302.7 239.4h0.01M309.0 228.2h0.01M297.7 243.2h0.01M305.6 241.3h0.01M317.5 245.1h0.01M301.9 238.7h0.01M295.5 230.2h0.01M309.3 236.4h0.01M303.1 236.5h0.01M317.9 246.0h0.01M304.9 243.6h0.01M300.5 240.2h0.01M294.2 240.0h0.01M297.3 238.0h0.01M301.1 242.2h0.01M308.6 239.5h0.01M305.8 238.2h0.01M298.7 227.6h0.01M304.4 248.0h0.01M305.2 235.5h0.01M310.2 241.6h0.01" stroke="#727272" stroke-width="0.68" stroke-linecap="round" fill="none" opacity="0.8"/>
<path d="M313.5 246.4h0.01M352.2 231.4h0.01M322.2 244.0h0.01M333.8 252.3h0.01M325.9 236.8h0.01M304.9 254.6h0.01M334.2 239.7h0.01M303.0 238.0h0.01M311.8 237.8h0.01M317.5 239.1h0.01M309.3 230.4h0.01M323.1 237.0h0.01M303.6 251.4h0.01M324.1 236.8h0.01M296.4 238.8h0.01M325.2 244.5h0.01M332.5 243.2h0.01M342.8 245.3h0.01M313.2 246.2h0.01M296.1 238.3h0.01M319.7 243.0h0.01M328.3 244.6h0.01M342.7 247.9h0.01M327.7 240.0h0.01M311.3 253.9h0.01M327.3 236.5h0.01M327.5 242.7h0.01M335.9 244.0h0.01M321.6 234.5h0.01M334.0 244.8h0.01M348.9 242.0h0.01M337.3 236.8h0.01M322.2 240.7h0.01M323.6 247.0h0.01M351.0 235.9h0.01M334.7 248.7h0.01M342.1 251.1h0.01M318.7 241.5h0.01M314.0 238.9h0.01M315.1 238.3h0.01M319.2 245.6h0.01M337.9 234.3h0.01M311.7 247.7h0.01M317.2 247.6h0.01M333.8 231.9h0.01M352.3 254.2h0.01M348.1 234.6h0.01M315.0 235.8h0.01M334.8 239.7h0.01M297.7 238.1h0.01M305.4 241.4h0.01M342.1 246.8h0.01M313.1 244.7h0.01M308.0 253.8h0.01M324.2 236.4h0.01M343.9 242.2h0.01M306.4 232.0h0.01M301.7 248.0h0.01M344.3 242.8h0.01M354.5 248.0h0.01M322.3 233.0h0.01M330.9 241.4h0.01M312.0 233.7h0.01M342.1 240.6h0.01M364.1 258.2h0.01M333.2 235.3h0.01M313.6 245.5h0.01M311.2 238.7h0.01M305.4 244.4h0.01M330.3 234.6h0.01M326.5 247.3h0.01M305.6 237.1h0.01M337.7 245.3h0.01M313.4 249.8h0.01M304.6 243.0h0.01M321.4 244.3h0.01M347.7 240.8h0.01M336.4 228.6h0.01M324.4 245.1h0.01M331.7 249.7h0.01M326.3 238.1h0.01M322.6 251.3h0.01M341.7 244.8h0.01M327.8 244.3h0.01M322.1 243.6h0.01M318.3 239.5h0.01M323.7 244.7h0.01M329.9 250.6h0.01M364.2 236.8h0.01M348.0 244.8h0.01M325.9 243.2h0.01M326.3 250.5h0.01M309.2 250.8h0.01M322.2 227.7h0.01M319.6 243.5h0.01M307.3 248.1h0.01M345.4 238.9h0.01M347.6 241.5h0.01M325.1 232.6h0.01M322.1 251.3h0.01M325.2 241.8h0.01M307.4 239.2h0.01M304.7 240.2h0.01M352.5 241.9h0.01M327.1 227.1h0.01M324.8 241.0h0.01M307.0 242.0h0.01M296.7 246.5h0.01M341.7 249.0h0.01M333.9 240.6h0.01M325.8 241.7h0.01M336.1 248.7h0.01M330.1 242.5h0.01M316.2 240.5h0.01M326.3 253.5h0.01M318.0 237.4h0.01M362.2 246.0h0.01M321.4 251.1h0.01M317.0 243.7h0.01M348.7 248.8h0.01M329.5 242.1h0.01M356.1 248.1h0.01M318.0 240.0h0.01M323.7 239.6h0.01M298.6 241.1h0.01M318.2 245.9h0.01M339.2 250.7h0.01M361.2 251.7h0.01M324.3 243.6h0.01M332.6 228.6h0.01M299.6 238.6h0.01M332.1 251.8h0.01M331.1 230.0h0.01M314.6 244.0h0.01M294.1 254.5h0.01M318.3 251.6h0.01M318.7 251.5h0.01M344.4 235.8h0.01M325.6 243.4h0.01M330.5 238.2h0.01M325.0 236.3h0.01M340.2 241.9h0.01M350.5 235.5h0.01M326.6 233.7h0.01M342.2 237.1h0.01M318.8 250.2h0.01M324.0 246.2h0.01M319.3 231.7h0.01M325.6 239.5h0.01M325.8 242.8h0.01M335.3 239.9h0.01M319.8 240.2h0.01M314.5 236.1h0.01M293.6 248.7h0.01M335.9 234.9h0.01M333.9 232.4h0.01M317.4 240.5h0.01M332.7 233.4h0.01M310.3 239.2h0.01M300.8 231.8h0.01M329.1 239.2h0.01M330.7 232.3h0.01M329.2 239.5h0.01M332.2 236.5h0.01M311.6 252.4h0.01M306.4 244.8h0.01M326.1 239.9h0.01M344.4 242.2h0.01M324.9 241.4h0.01M344.4 239.5h0.01M333.4 236.6h0.01M343.2 234.6h0.01M313.3 240.8h0.01M316.6 241.9h0.01M327.9 248.4h0.01M322.2 235.4h0.01M354.1 242.8h0.01M331.6 245.7h0.01M308.9 246.9h0.01M317.5 237.7h0.01M306.7 247.6h0.01M349.7 239.1h0.01M313.4 239.3h0.01M312.9 244.7h0.01M321.5 233.2h0.01M304.5 236.8h0.01M323.3 235.1h0.01M328.9 237.5h0.01M330.0 245.0h0.01M329.8 245.4h0.01M338.4 240.0h0.01M329.9 236.6h0.01M305.1 238.7h0.01M340.1 228.5h0.01M317.1 251.1h0.01M336.8 233.3h0.01M308.4 243.0h0.01M355.2 257.8h0.01M295.4 244.5h0.01M325.9 243.4h0.01M342.2 246.1h0.01M323.2 249.6h0.01M329.1 247.0h0.01M325.7 233.9h0.01M311.8 232.3h0.01M306.1 250.2h0.01M312.8 242.1h0.01M314.7 244.4h0.01M325.1 237.0h0.01M309.2 242.0h0.01M303.0 250.1h0.01M317.3 248.4h0.01M310.3 244.7h0.01M330.6 241.0h0.01M341.0 239.3h0.01M322.7 236.5h0.01M315.6 239.1h0.01M333.3 248.2h0.01M314.7 248.7h0.01M318.9 246.1h0.01M310.4 253.3h0.01M332.5 238.2h0.01M307.3 254.3h0.01M311.9 244.4h0.01M327.1 247.1h0.01M314.8 233.7h0.01M315.1 242.1h0.01M302.4 241.5h0.01M322.4 234.5h0.01M316.0 242.8h0.01M330.6 239.7h0.01M329.6 241.3h0.01M310.3 242.5h0.01M335.0 239.5h0.01M339.5 237.8h0.01M340.8 233.4h0.01M352.9 246.0h0.01M298.5 245.8h0.01M354.9 249.8h0.01M334.0 245.6h0.01M313.9 249.0h0.01M349.7 238.2h0.01M298.3 242.1h0.01M314.4 241.0h0.01M296.7 234.3h0.01M316.2 250.8h0.01M309.9 243.8h0.01M334.5 230.9h0.01M309.2 241.8h0.01M314.3 237.4h0.01M306.8 244.9h0.01M338.3 234.5h0.01M308.8 247.5h0.01M336.8 241.2h0.01M311.2 239.1h0.01M338.2 246.8h0.01M327.6 233.1h0.01M305.5 232.0h0.01M351.0 234.6h0.01M311.0 241.8h0.01M326.5 245.3h0.01M338.7 241.4h0.01M349.1 250.3h0.01M345.6 249.7h0.01M332.9 242.1h0.01M358.4 251.5h0.01M354.6 239.6h0.01M331.9 241.7h0.01M370.1 239.0h0.01M321.7 237.7h0.01M337.3 234.2h0.01M332.6 239.9h0.01M343.0 242.7h0.01M311.7 247.0h0.01M318.8 236.1h0.01M321.2 245.8h0.01M296.7 246.7h0.01M308.3 247.3h0.01M307.5 237.6h0.01M315.1 246.7h0.01M319.7 241.4h0.01M316.0 230.0h0.01M320.5 236.7h0.01M316.1 245.3h0.01M305.1 243.7h0.01M312.6 236.7h0.01M313.3 233.7h0.01M299.4 248.6h0.01M342.7 250.0h0.01M346.8 232.3h0.01M338.5 248.5h0.01M304.1 239.2h0.01M338.7 245.4h0.01M323.8 233.8h0.01M296.2 245.8h0.01M337.0 236.3h0.01M343.3 238.5h0.01M330.0 240.4h0.01M344.5 237.8h0.01M337.2 236.4h0.01M322.1 238.6h0.01M313.1 233.6h0.01M327.0 241.5h0.01M324.4 244.8h0.01M327.1 231.3h0.01M330.3 236.9h0.01M310.8 248.7h0.01M325.6 245.9h0.01M324.3 257.6h0.01M309.1 234.3h0.01M321.6 250.0h0.01M325.6 242.0h0.01M350.3 253.4h0.01M319.8 231.8h0.01M347.1 232.1h0.01M310.6 229.1h0.01M319.2 238.4h0.01M302.7 237.6h0.01M315.8 241.6h0.01M312.7 242.9h0.01M321.9 237.7h0.01M307.1 230.3h0.01M342.8 246.7h0.01M321.3 246.2h0.01M328.1 242.5h0.01M338.3 246.5h0.01M336.9 249.1h0.01M313.8 246.5h0.01M325.9 242.4h0.01M302.1 235.3h0.01M300.5 236.2h0.01M310.7 243.7h0.01M341.1 239.0h0.01M329.3 249.0h0.01M326.0 245.5h0.01M332.1 247.2h0.01M324.4 238.3h0.01M314.8 259.3h0.01M326.0 247.3h0.01M353.4 235.4h0.01M332.2 235.5h0.01M314.6 236.8h0.01M311.3 241.7h0.01M343.2 240.7h0.01M319.7 232.0h0.01M321.6 241.3h0.01M325.4 245.5h0.01M315.9 246.0h0.01M340.9 241.9h0.01M325.6 246.5h0.01M310.2 241.8h0.01M319.0 246.3h0.01M327.6 253.7h0.01M343.7 239.3h0.01M328.3 236.9h0.01M326.8 231.6h0.01M313.8 250.6h0.01M326.9 242.7h0.01M303.5 232.3h0.01M298.5 248.3h0.01M314.1 230.9h0.01M315.9 235.1h0.01M319.8 236.6h0.01M318.9 231.9h0.01M343.7 250.4h0.01M309.8 245.7h0.01M319.3 242.3h0.01M331.1 239.0h0.01M329.5 243.8h0.01M325.4 241.4h0.01M330.7 232.2h0.01M346.3 246.7h0.01M329.9 242.4h0.01M344.5 227.6h0.01M346.3 242.9h0.01M294.5 253.8h0.01M318.0 237.1h0.01M330.5 243.3h0.01M300.8 239.1h0.01M300.2 238.5h0.01M315.6 247.4h0.01M321.9 254.2h0.01M336.4 235.7h0.01M321.0 247.1h0.01M307.0 241.8h0.01M313.2 247.6h0.01M332.9 239.2h0.01M334.8 247.2h0.01M308.2 241.4h0.01M347.8 249.0h0.01M306.5 235.8h0.01M340.9 249.3h0.01M322.9 233.8h0.01M307.1 235.6h0.01" stroke="#8c8c8c" stroke-width="0.66" stroke-linecap="round" fill="none" opacity="0.75"/>
<path d="M305.7 247.0h0.01M313.0 240.9h0.01M304.1 254.9h0.01M315.4 261.5h0.01M293.1 261.2h0.01M303.9 277.4h0.01M293.1 239.8h0.01M314.3 257.7h0.01M315.7 249.8h0.01M297.4 244.4h0.01M327.2 255.8h0.01M314.0 259.8h0.01M313.4 240.3h0.01M314.5 237.0h0.01M320.3 253.5h0.01M320.5 255.6h0.01M321.0 248.7h0.01M306.7 243.2h0.01M306.5 256.4h0.01M300.9 266.1h0.01M319.0 250.2h0.01M313.6 248.4h0.01M315.0 256.8h0.01M320.3 261.1h0.01M297.4 244.0h0.01M318.0 251.5h0.01M321.2 244.8h0.01M312.8 265.5h0.01M323.2 248.5h0.01M323.3 250.3h0.01M321.8 256.2h0.01M301.4 254.0h0.01M329.8 252.0h0.01M319.7 267.3h0.01M294.8 253.2h0.01M307.5 261.4h0.01M303.6 255.4h0.01M310.1 256.8h0.01M304.7 242.5h0.01M301.7 247.3h0.01M316.5 246.5h0.01M297.0 244.9h0.01M317.3 256.1h0.01M314.8 248.5h0.01M301.9 251.3h0.01M310.9 263.1h0.01M320.4 258.2h0.01M296.7 251.4h0.01M304.6 262.6h0.01M314.7 241.8h0.01M322.3 253.1h0.01M328.6 262.6h0.01M299.5 252.3h0.01M318.2 244.1h0.01M298.2 259.5h0.01M314.3 251.4h0.01M292.8 247.7h0.01M326.1 251.3h0.01M322.9 251.2h0.01M315.9 245.8h0.01M320.5 250.1h0.01M326.9 257.9h0.01M303.7 244.0h0.01M310.4 242.7h0.01M314.9 255.0h0.01M296.6 247.8h0.01M302.6 236.1h0.01M315.1 243.0h0.01M312.9 251.8h0.01M300.9 257.1h0.01M309.9 259.8h0.01M308.3 240.7h0.01M320.7 255.2h0.01M304.1 247.3h0.01M322.0 240.6h0.01M308.6 242.4h0.01M315.8 255.1h0.01M323.0 251.6h0.01M320.3 239.1h0.01M323.0 254.8h0.01M295.1 247.4h0.01M314.2 263.3h0.01M303.6 259.6h0.01M307.1 254.3h0.01M320.4 241.2h0.01M293.3 263.5h0.01M302.0 256.0h0.01M307.4 263.5h0.01M313.0 238.6h0.01M319.5 255.7h0.01M314.8 244.0h0.01M304.0 243.4h0.01M332.5 232.0h0.01M321.3 235.3h0.01M321.8 245.5h0.01M323.3 258.4h0.01M320.2 258.2h0.01M325.2 242.6h0.01M309.8 247.7h0.01M329.4 252.2h0.01M309.1 242.9h0.01M312.3 243.1h0.01M300.0 247.1h0.01M328.7 252.3h0.01M330.5 245.8h0.01M309.7 256.8h0.01M322.6 254.2h0.01M317.9 254.5h0.01M317.0 263.9h0.01M315.2 260.1h0.01M298.5 266.6h0.01M315.0 258.5h0.01M326.3 251.0h0.01M308.6 250.7h0.01M317.6 255.5h0.01M317.3 256.1h0.01M322.8 269.0h0.01M338.0 250.2h0.01M319.0 246.9h0.01M320.1 268.4h0.01M324.2 248.0h0.01M304.0 260.8h0.01M311.5 261.2h0.01M312.1 253.4h0.01M310.1 249.4h0.01M303.6 252.7h0.01M301.5 250.8h0.01M320.8 253.4h0.01M303.3 251.1h0.01M312.1 244.0h0.01M322.2 253.3h0.01M309.8 270.8h0.01M308.0 232.9h0.01M297.4 278.3h0.01M322.7 246.4h0.01M304.0 254.9h0.01M294.3 257.0h0.01M314.3 244.9h0.01M314.6 251.6h0.01M321.7 248.0h0.01M304.8 262.1h0.01M293.7 248.1h0.01M326.6 251.7h0.01M328.4 256.7h0.01M315.8 243.6h0.01M296.7 246.9h0.01M301.2 250.3h0.01M304.0 252.7h0.01M317.7 262.5h0.01M314.4 249.8h0.01M296.3 254.7h0.01M302.5 241.9h0.01M317.0 243.4h0.01M315.8 258.5h0.01M317.4 249.2h0.01M317.7 243.9h0.01M306.2 228.9h0.01M301.8 251.1h0.01M302.5 253.0h0.01M295.3 242.5h0.01M324.2 260.6h0.01M314.1 256.6h0.01M297.9 234.2h0.01M312.7 246.5h0.01M302.9 240.9h0.01M305.7 259.9h0.01M309.0 245.9h0.01M321.3 253.8h0.01M292.1 251.4h0.01M317.7 252.5h0.01M335.4 254.0h0.01M312.2 246.3h0.01M308.0 260.5h0.01M310.5 252.5h0.01M313.1 242.0h0.01M328.9 261.8h0.01M303.7 247.6h0.01M316.9 244.2h0.01M301.7 244.8h0.01M315.9 238.5h0.01M313.9 250.6h0.01M303.1 251.3h0.01M300.9 253.9h0.01" stroke="#989898" stroke-width="0.66" stroke-linecap="round" fill="none" opacity="0.7"/>
<path d="M345.2 240.1h0.01M338.9 229.3h0.01M354.4 255.4h0.01M337.4 282.7h0.01M352.1 260.2h0.01M350.1 267.1h0.01M348.6 232.0h0.01M321.7 242.4h0.01M358.4 268.9h0.01M356.1 268.8h0.01M363.5 267.7h0.01M343.2 251.0h0.01M349.2 271.2h0.01M334.9 254.6h0.01M354.2 261.4h0.01M352.3 272.3h0.01M354.2 264.0h0.01M376.5 245.0h0.01M345.3 253.9h0.01M358.9 284.9h0.01M339.0 265.4h0.01M345.6 262.4h0.01M349.6 248.4h0.01M343.2 259.9h0.01M347.5 289.6h0.01M351.9 259.7h0.01M350.7 253.8h0.01M349.0 273.1h0.01M348.8 253.9h0.01M339.3 249.5h0.01M348.9 246.1h0.01M355.6 253.5h0.01M335.4 247.4h0.01M358.1 263.9h0.01M331.8 253.9h0.01M351.5 258.8h0.01M366.2 267.2h0.01M374.1 251.6h0.01M344.3 268.9h0.01M353.1 256.4h0.01M331.9 255.0h0.01M340.1 269.9h0.01M368.6 259.1h0.01M330.6 236.9h0.01M332.2 277.5h0.01M341.0 288.0h0.01M364.5 270.7h0.01M356.0 274.5h0.01M347.2 253.3h0.01M339.3 251.9h0.01M344.2 274.4h0.01M344.8 255.7h0.01M352.2 248.7h0.01M338.8 256.7h0.01M369.4 262.2h0.01M350.2 258.1h0.01M337.0 269.2h0.01M342.4 268.0h0.01M345.7 261.2h0.01M336.9 262.0h0.01M333.2 249.8h0.01M359.0 255.8h0.01M356.2 272.5h0.01M357.2 255.6h0.01M343.4 262.8h0.01M343.6 259.4h0.01M355.3 268.5h0.01M352.4 258.3h0.01M317.0 257.7h0.01M367.2 257.8h0.01M347.9 264.2h0.01M344.6 251.1h0.01M334.0 251.1h0.01M350.1 255.8h0.01M353.0 285.6h0.01M331.4 270.7h0.01M354.7 275.8h0.01M350.3 258.3h0.01M333.9 271.3h0.01M328.2 253.7h0.01M375.1 276.1h0.01M334.7 264.5h0.01M344.6 270.1h0.01M342.1 250.6h0.01M339.5 261.7h0.01M347.8 260.1h0.01M319.1 246.4h0.01M336.9 269.3h0.01M342.2 256.3h0.01M369.8 260.4h0.01M366.3 267.7h0.01M339.6 269.6h0.01M356.8 259.4h0.01M355.1 254.4h0.01M335.3 258.0h0.01M351.2 261.3h0.01M361.1 266.1h0.01M365.4 272.2h0.01M353.8 258.5h0.01M357.8 279.3h0.01M338.8 267.2h0.01M358.1 264.9h0.01M324.9 251.4h0.01M363.8 256.6h0.01M352.0 252.5h0.01M362.7 276.8h0.01M368.4 273.3h0.01M334.3 263.5h0.01M336.7 277.8h0.01M343.7 270.4h0.01M331.2 257.7h0.01M352.6 261.8h0.01M345.1 238.1h0.01M342.7 258.1h0.01M346.6 263.6h0.01M347.8 264.7h0.01M357.1 251.1h0.01M360.3 262.7h0.01M341.2 266.7h0.01M340.4 251.7h0.01M337.5 250.6h0.01M354.5 269.0h0.01M358.7 252.2h0.01M353.6 275.8h0.01M357.4 271.6h0.01M346.9 250.7h0.01M358.6 266.6h0.01M356.3 244.0h0.01M322.4 273.5h0.01M326.9 261.0h0.01M337.4 271.2h0.01M332.6 240.8h0.01M322.6 275.7h0.01M338.0 260.2h0.01M364.9 229.5h0.01M326.8 270.2h0.01M375.5 273.2h0.01M343.0 273.5h0.01M344.2 257.7h0.01M350.7 255.7h0.01M343.8 254.6h0.01M365.2 253.5h0.01M343.2 254.6h0.01M352.6 251.7h0.01M356.7 267.0h0.01M344.3 263.1h0.01M336.3 255.4h0.01M365.1 266.9h0.01M348.1 275.6h0.01M332.1 258.5h0.01M351.7 259.0h0.01M334.3 267.2h0.01M344.3 263.0h0.01M347.9 272.7h0.01M346.0 266.4h0.01M356.6 276.1h0.01M341.6 257.4h0.01M355.7 284.8h0.01M354.1 268.1h0.01M327.5 261.1h0.01M353.0 265.3h0.01M368.1 259.9h0.01M355.4 272.0h0.01M364.2 262.9h0.01M357.9 268.3h0.01M343.6 281.2h0.01M349.8 250.7h0.01M350.5 261.2h0.01M333.7 246.5h0.01M352.8 248.0h0.01M339.2 274.2h0.01M354.9 237.5h0.01M355.8 249.2h0.01M356.4 261.7h0.01M356.5 265.0h0.01M337.8 254.8h0.01M355.9 270.7h0.01M343.3 250.2h0.01M336.4 258.9h0.01M365.0 246.8h0.01M349.9 253.4h0.01M344.8 271.1h0.01M327.6 265.9h0.01M357.9 267.3h0.01M347.2 262.7h0.01M346.5 275.4h0.01M327.5 249.8h0.01M352.6 260.4h0.01M358.3 270.3h0.01M351.7 249.6h0.01M358.6 282.4h0.01M336.6 266.0h0.01M333.3 269.4h0.01M365.1 254.0h0.01M360.8 253.7h0.01M336.5 239.1h0.01M326.9 279.0h0.01M355.8 251.2h0.01M339.2 264.3h0.01M372.6 258.6h0.01M365.9 277.7h0.01M336.3 260.4h0.01M355.6 265.8h0.01M338.9 258.7h0.01M347.9 242.2h0.01M343.2 264.7h0.01M340.4 269.7h0.01M342.4 269.5h0.01M361.4 265.6h0.01M358.9 250.7h0.01M356.3 253.9h0.01M333.0 225.9h0.01M357.1 255.1h0.01M348.1 265.8h0.01M320.3 251.8h0.01M346.2 271.2h0.01M357.2 248.2h0.01M331.2 254.4h0.01M381.4 259.8h0.01M350.8 258.3h0.01M331.2 272.9h0.01M345.3 244.6h0.01M329.1 273.0h0.01M349.3 248.6h0.01M334.2 251.8h0.01" stroke="#989898" stroke-width="0.66" stroke-linecap="round" fill="none" opacity="0.7"/>
<path d="M361.6 276.8h0.01M378.9 226.8h0.01M295.2 267.5h0.01M324.0 267.2h0.01M338.5 220.4h0.01M365.0 255.2h0.01M370.2 285.7h0.01M384.0 269.0h0.01M366.7 250.7h0.01M319.4 267.5h0.01M365.5 259.5h0.01M345.2 258.3h0.01M351.4 259.6h0.01M321.8 254.7h0.01M300.7 239.7h0.01M329.1 280.7h0.01M346.8 236.5h0.01M325.1 246.0h0.01M322.6 250.4h0.01M341.9 281.1h0.01M315.6 272.9h0.01M296.0 264.8h0.01M321.3 270.2h0.01M338.9 262.7h0.01M332.3 282.3h0.01M350.3 228.9h0.01M356.2 258.1h0.01M348.1 242.1h0.01M313.0 275.8h0.01M379.3 244.5h0.01M337.6 261.2h0.01M299.3 268.5h0.01M363.6 229.2h0.01M373.8 269.3h0.01M329.8 241.7h0.01M322.3 277.6h0.01M347.3 256.6h0.01M326.9 255.5h0.01M306.7 265.1h0.01M373.7 225.6h0.01" stroke="#aaaaaa" stroke-width="0.66" stroke-linecap="round" fill="none" opacity="0.6"/>
<path d="M290.3 197.6V293.6H386.2" fill="none" stroke="#8a8a8a" stroke-width="0.9"/>
<path d="M290.3 197.6H386.2V293.6" fill="none" stroke="#333" stroke-width="0.9"/>
<line x1="287.90" y1="205.90" x2="290.30" y2="205.90" stroke="#333" stroke-width="0.9"/>
<line x1="289.00" y1="221.42" x2="290.30" y2="221.42" stroke="#3a3a3a" stroke-width="0.6"/>
<line x1="289.00" y1="217.51" x2="290.30" y2="217.51" stroke="#3a3a3a" stroke-width="0.6"/>
<line x1="289.00" y1="214.73" x2="290.30" y2="214.73" stroke="#3a3a3a" stroke-width="0.6"/>
<line x1="289.00" y1="212.58" x2="290.30" y2="212.58" stroke="#3a3a3a" stroke-width="0.6"/>
<line x1="289.00" y1="210.83" x2="290.30" y2="210.83" stroke="#3a3a3a" stroke-width="0.6"/>
<line x1="289.00" y1="209.34" x2="290.30" y2="209.34" stroke="#3a3a3a" stroke-width="0.6"/>
<line x1="289.00" y1="208.05" x2="290.30" y2="208.05" stroke="#3a3a3a" stroke-width="0.6"/>
<line x1="289.00" y1="206.92" x2="290.30" y2="206.92" stroke="#3a3a3a" stroke-width="0.6"/>
<line x1="287.90" y1="228.10" x2="290.30" y2="228.10" stroke="#333" stroke-width="0.9"/>
<line x1="289.00" y1="243.62" x2="290.30" y2="243.62" stroke="#3a3a3a" stroke-width="0.6"/>
<line x1="289.00" y1="239.71" x2="290.30" y2="239.71" stroke="#3a3a3a" stroke-width="0.6"/>
<line x1="289.00" y1="236.93" x2="290.30" y2="236.93" stroke="#3a3a3a" stroke-width="0.6"/>
<line x1="289.00" y1="234.78" x2="290.30" y2="234.78" stroke="#3a3a3a" stroke-width="0.6"/>
<line x1="289.00" y1="233.03" x2="290.30" y2="233.03" stroke="#3a3a3a" stroke-width="0.6"/>
<line x1="289.00" y1="231.54" x2="290.30" y2="231.54" stroke="#3a3a3a" stroke-width="0.6"/>
<line x1="289.00" y1="230.25" x2="290.30" y2="230.25" stroke="#3a3a3a" stroke-width="0.6"/>
<line x1="289.00" y1="229.12" x2="290.30" y2="229.12" stroke="#3a3a3a" stroke-width="0.6"/>
<line x1="287.90" y1="250.30" x2="290.30" y2="250.30" stroke="#333" stroke-width="0.9"/>
<line x1="289.00" y1="265.82" x2="290.30" y2="265.82" stroke="#3a3a3a" stroke-width="0.6"/>
<line x1="289.00" y1="261.91" x2="290.30" y2="261.91" stroke="#3a3a3a" stroke-width="0.6"/>
<line x1="289.00" y1="259.13" x2="290.30" y2="259.13" stroke="#3a3a3a" stroke-width="0.6"/>
<line x1="289.00" y1="256.98" x2="290.30" y2="256.98" stroke="#3a3a3a" stroke-width="0.6"/>
<line x1="289.00" y1="255.23" x2="290.30" y2="255.23" stroke="#3a3a3a" stroke-width="0.6"/>
<line x1="289.00" y1="253.74" x2="290.30" y2="253.74" stroke="#3a3a3a" stroke-width="0.6"/>
<line x1="289.00" y1="252.45" x2="290.30" y2="252.45" stroke="#3a3a3a" stroke-width="0.6"/>
<line x1="289.00" y1="251.32" x2="290.30" y2="251.32" stroke="#3a3a3a" stroke-width="0.6"/>
<line x1="287.90" y1="272.50" x2="290.30" y2="272.50" stroke="#333" stroke-width="0.9"/>
<line x1="289.00" y1="281.33" x2="290.30" y2="281.33" stroke="#3a3a3a" stroke-width="0.6"/>
<line x1="289.00" y1="279.18" x2="290.30" y2="279.18" stroke="#3a3a3a" stroke-width="0.6"/>
<line x1="289.00" y1="277.43" x2="290.30" y2="277.43" stroke="#3a3a3a" stroke-width="0.6"/>
<line x1="289.00" y1="275.94" x2="290.30" y2="275.94" stroke="#3a3a3a" stroke-width="0.6"/>
<line x1="289.00" y1="274.65" x2="290.30" y2="274.65" stroke="#3a3a3a" stroke-width="0.6"/>
<line x1="289.00" y1="273.52" x2="290.30" y2="273.52" stroke="#3a3a3a" stroke-width="0.6"/>
<line x1="289.00" y1="199.22" x2="290.30" y2="199.22" stroke="#3a3a3a" stroke-width="0.6"/>
<line x1="287.70" y1="283.40" x2="290.30" y2="283.40" stroke="#111" stroke-width="1.6"/>
<line x1="289.00" y1="286.40" x2="290.30" y2="286.40" stroke="#3a3a3a" stroke-width="0.6"/>
<line x1="289.00" y1="288.40" x2="290.30" y2="288.40" stroke="#3a3a3a" stroke-width="0.6"/>
<line x1="289.00" y1="289.90" x2="290.30" y2="289.90" stroke="#3a3a3a" stroke-width="0.6"/>
<line x1="318.30" y1="293.60" x2="318.30" y2="296.00" stroke="#333" stroke-width="0.9"/>
<line x1="336.20" y1="293.60" x2="336.20" y2="296.00" stroke="#333" stroke-width="0.9"/>
<line x1="355.70" y1="293.60" x2="355.70" y2="296.00" stroke="#333" stroke-width="0.9"/>
<line x1="373.90" y1="293.60" x2="373.90" y2="296.00" stroke="#333" stroke-width="0.9"/>
<line x1="305.30" y1="293.60" x2="305.30" y2="294.90" stroke="#3a3a3a" stroke-width="0.6"/>
<line x1="308.57" y1="293.60" x2="308.57" y2="294.90" stroke="#3a3a3a" stroke-width="0.6"/>
<line x1="310.90" y1="293.60" x2="310.90" y2="294.90" stroke="#3a3a3a" stroke-width="0.6"/>
<line x1="312.70" y1="293.60" x2="312.70" y2="294.90" stroke="#3a3a3a" stroke-width="0.6"/>
<line x1="314.17" y1="293.60" x2="314.17" y2="294.90" stroke="#3a3a3a" stroke-width="0.6"/>
<line x1="315.42" y1="293.60" x2="315.42" y2="294.90" stroke="#3a3a3a" stroke-width="0.6"/>
<line x1="316.50" y1="293.60" x2="316.50" y2="294.90" stroke="#3a3a3a" stroke-width="0.6"/>
<line x1="317.45" y1="293.60" x2="317.45" y2="294.90" stroke="#3a3a3a" stroke-width="0.6"/>
<line x1="323.20" y1="293.60" x2="323.20" y2="294.90" stroke="#3a3a3a" stroke-width="0.6"/>
<line x1="326.47" y1="293.60" x2="326.47" y2="294.90" stroke="#3a3a3a" stroke-width="0.6"/>
<line x1="328.80" y1="293.60" x2="328.80" y2="294.90" stroke="#3a3a3a" stroke-width="0.6"/>
<line x1="330.60" y1="293.60" x2="330.60" y2="294.90" stroke="#3a3a3a" stroke-width="0.6"/>
<line x1="332.07" y1="293.60" x2="332.07" y2="294.90" stroke="#3a3a3a" stroke-width="0.6"/>
<line x1="333.32" y1="293.60" x2="333.32" y2="294.90" stroke="#3a3a3a" stroke-width="0.6"/>
<line x1="334.40" y1="293.60" x2="334.40" y2="294.90" stroke="#3a3a3a" stroke-width="0.6"/>
<line x1="335.35" y1="293.60" x2="335.35" y2="294.90" stroke="#3a3a3a" stroke-width="0.6"/>
<line x1="342.70" y1="293.60" x2="342.70" y2="294.90" stroke="#3a3a3a" stroke-width="0.6"/>
<line x1="345.97" y1="293.60" x2="345.97" y2="294.90" stroke="#3a3a3a" stroke-width="0.6"/>
<line x1="348.30" y1="293.60" x2="348.30" y2="294.90" stroke="#3a3a3a" stroke-width="0.6"/>
<line x1="350.10" y1="293.60" x2="350.10" y2="294.90" stroke="#3a3a3a" stroke-width="0.6"/>
<line x1="351.57" y1="293.60" x2="351.57" y2="294.90" stroke="#3a3a3a" stroke-width="0.6"/>
<line x1="352.82" y1="293.60" x2="352.82" y2="294.90" stroke="#3a3a3a" stroke-width="0.6"/>
<line x1="353.90" y1="293.60" x2="353.90" y2="294.90" stroke="#3a3a3a" stroke-width="0.6"/>
<line x1="354.85" y1="293.60" x2="354.85" y2="294.90" stroke="#3a3a3a" stroke-width="0.6"/>
<line x1="360.90" y1="293.60" x2="360.90" y2="294.90" stroke="#3a3a3a" stroke-width="0.6"/>
<line x1="364.17" y1="293.60" x2="364.17" y2="294.90" stroke="#3a3a3a" stroke-width="0.6"/>
<line x1="366.50" y1="293.60" x2="366.50" y2="294.90" stroke="#3a3a3a" stroke-width="0.6"/>
<line x1="368.30" y1="293.60" x2="368.30" y2="294.90" stroke="#3a3a3a" stroke-width="0.6"/>
<line x1="369.77" y1="293.60" x2="369.77" y2="294.90" stroke="#3a3a3a" stroke-width="0.6"/>
<line x1="371.02" y1="293.60" x2="371.02" y2="294.90" stroke="#3a3a3a" stroke-width="0.6"/>
<line x1="372.10" y1="293.60" x2="372.10" y2="294.90" stroke="#3a3a3a" stroke-width="0.6"/>
<line x1="373.05" y1="293.60" x2="373.05" y2="294.90" stroke="#3a3a3a" stroke-width="0.6"/>
<line x1="379.50" y1="293.60" x2="379.50" y2="294.90" stroke="#3a3a3a" stroke-width="0.6"/>
<line x1="382.77" y1="293.60" x2="382.77" y2="294.90" stroke="#3a3a3a" stroke-width="0.6"/>
<line x1="385.10" y1="293.60" x2="385.10" y2="294.90" stroke="#3a3a3a" stroke-width="0.6"/>
<line x1="299.50" y1="293.60" x2="299.50" y2="296.20" stroke="#111" stroke-width="1.6"/>
<line x1="296.50" y1="293.60" x2="296.50" y2="294.90" stroke="#3a3a3a" stroke-width="0.6"/>
<line x1="294.50" y1="293.60" x2="294.50" y2="294.90" stroke="#3a3a3a" stroke-width="0.6"/>
<line x1="293.00" y1="293.60" x2="293.00" y2="294.90" stroke="#3a3a3a" stroke-width="0.6"/>
<rect x="335.50" y="251.50" width="37.00" height="34.00" fill="none" stroke="#606060" stroke-width="0.75"/>
<text x="314" y="289" font-size="9" text-anchor="middle" fill="#151515" >HSC</text>
<text x="335.5" y="310" font-size="9" text-anchor="middle" fill="#151515" >CD150</text>
<path d="M322.3 376.5h0.01M317.7 366.2h0.01M313.9 370.9h0.01M331.3 369.4h0.01M314.2 373.8h0.01M321.7 373.6h0.01M311.1 371.1h0.01M325.5 379.4h0.01M312.5 379.2h0.01M321.3 376.2h0.01M305.5 377.5h0.01M307.6 375.7h0.01M318.8 380.1h0.01M317.1 367.3h0.01M313.2 377.2h0.01M321.6 377.1h0.01M309.3 377.3h0.01M318.3 373.6h0.01M319.1 379.1h0.01M315.4 375.7h0.01M309.7 377.3h0.01M320.2 377.9h0.01M327.0 373.4h0.01M312.8 366.5h0.01M301.9 376.1h0.01M320.6 373.1h0.01M321.0 373.4h0.01M322.1 369.5h0.01M321.9 365.7h0.01M310.2 372.6h0.01M311.1 370.2h0.01M310.1 385.5h0.01M309.1 367.5h0.01M310.3 377.1h0.01M317.3 371.3h0.01M313.6 380.6h0.01M320.4 372.7h0.01M307.5 373.9h0.01M327.2 376.3h0.01M303.8 374.3h0.01M318.9 377.4h0.01M318.2 378.6h0.01M308.6 366.4h0.01M315.3 375.7h0.01M311.6 375.5h0.01M317.4 371.4h0.01M318.6 376.9h0.01M304.2 371.3h0.01M313.1 370.1h0.01M320.0 375.3h0.01M311.6 370.4h0.01M315.9 372.2h0.01M324.8 374.8h0.01M316.1 367.6h0.01M312.6 367.3h0.01M304.7 381.5h0.01M314.0 369.2h0.01M313.3 375.0h0.01M313.9 375.2h0.01M323.3 372.5h0.01M314.4 370.2h0.01M313.8 370.1h0.01M316.1 375.3h0.01M316.4 370.4h0.01M313.3 378.6h0.01M312.8 375.2h0.01M318.4 372.1h0.01M318.6 363.8h0.01M306.8 371.0h0.01M317.2 372.3h0.01M311.1 370.7h0.01M315.4 373.0h0.01M319.0 358.3h0.01M318.2 376.0h0.01M316.6 368.5h0.01M323.1 370.2h0.01M305.0 373.6h0.01M308.8 383.4h0.01M313.1 375.8h0.01M310.4 375.0h0.01M315.0 376.7h0.01M309.5 374.7h0.01M308.5 378.5h0.01M315.8 370.0h0.01M309.0 375.5h0.01M322.0 375.6h0.01M299.9 361.7h0.01M312.6 377.1h0.01M313.0 376.3h0.01M311.8 367.5h0.01M324.0 368.5h0.01M313.2 370.2h0.01M311.2 374.0h0.01M319.2 375.4h0.01M320.2 377.1h0.01M332.1 377.2h0.01M321.4 375.7h0.01M306.2 372.4h0.01M317.3 375.5h0.01M325.2 372.1h0.01M318.7 373.0h0.01M312.2 369.6h0.01M305.9 374.3h0.01M318.7 369.4h0.01M304.7 377.0h0.01M318.7 380.4h0.01M308.4 378.0h0.01M313.8 368.7h0.01M305.1 369.5h0.01M316.0 373.3h0.01M310.3 377.9h0.01M314.7 374.5h0.01M309.4 371.8h0.01M323.8 368.4h0.01M308.5 375.5h0.01M320.1 376.0h0.01M320.0 381.8h0.01M317.7 369.1h0.01M304.0 367.3h0.01M316.2 374.3h0.01M308.9 373.0h0.01M308.4 379.0h0.01M318.4 380.9h0.01M310.1 376.2h0.01M306.9 372.1h0.01M315.8 368.3h0.01M318.1 371.9h0.01M321.0 369.5h0.01M308.8 367.1h0.01M304.6 376.7h0.01M309.1 372.5h0.01M327.2 381.4h0.01M304.6 365.8h0.01M317.0 377.1h0.01M302.7 366.9h0.01M309.9 382.9h0.01M317.3 381.2h0.01M316.0 371.2h0.01M311.4 371.0h0.01M310.1 368.9h0.01M313.1 371.1h0.01M312.7 377.3h0.01M303.2 370.9h0.01M320.2 374.0h0.01M306.3 378.0h0.01M306.1 372.7h0.01M317.6 366.4h0.01M323.7 376.2h0.01M307.9 369.8h0.01M306.6 378.2h0.01M321.2 377.8h0.01M321.9 370.5h0.01M314.1 374.3h0.01M317.7 380.7h0.01M307.2 368.9h0.01M317.3 366.3h0.01M314.8 379.6h0.01M315.5 366.6h0.01M331.5 373.5h0.01M322.7 376.5h0.01M318.5 373.3h0.01M314.2 370.6h0.01M309.4 377.4h0.01M305.4 374.4h0.01M312.5 368.3h0.01M316.7 373.8h0.01M306.9 370.8h0.01M318.8 374.7h0.01M305.7 371.0h0.01M315.1 368.7h0.01M311.2 371.2h0.01M309.6 374.0h0.01M313.1 372.0h0.01M318.5 370.0h0.01M306.5 371.5h0.01M315.9 375.5h0.01M316.2 365.6h0.01M316.9 377.8h0.01M318.7 368.5h0.01M316.1 371.8h0.01M312.5 372.9h0.01M320.3 374.1h0.01M317.9 369.1h0.01M323.2 374.5h0.01M327.1 369.9h0.01M306.1 371.0h0.01M313.1 374.7h0.01M326.6 374.9h0.01M321.0 372.5h0.01M313.3 382.5h0.01M319.4 365.3h0.01M311.2 373.9h0.01M316.6 375.1h0.01M313.1 372.9h0.01M311.5 367.7h0.01M315.6 368.4h0.01M320.8 369.5h0.01M311.2 375.1h0.01M322.3 373.7h0.01M308.9 367.4h0.01M313.0 375.7h0.01M313.1 372.8h0.01M312.5 371.9h0.01M316.5 368.7h0.01M319.1 366.1h0.01M310.1 382.6h0.01M310.8 366.6h0.01M324.7 378.5h0.01M321.8 377.7h0.01M317.7 370.0h0.01M314.4 369.1h0.01M323.3 378.0h0.01M312.5 377.6h0.01M301.1 369.3h0.01M317.4 367.2h0.01M314.3 372.0h0.01M321.9 372.5h0.01M313.6 376.3h0.01M315.8 371.5h0.01M316.4 370.5h0.01M314.6 381.2h0.01M318.6 376.1h0.01M310.0 373.5h0.01M330.8 375.2h0.01M317.5 375.8h0.01M316.4 369.3h0.01M306.7 366.0h0.01M309.5 376.5h0.01M304.5 376.2h0.01M314.6 365.6h0.01M314.2 379.2h0.01M303.5 370.2h0.01M315.4 378.5h0.01M312.2 372.7h0.01M316.3 373.8h0.01M324.2 376.1h0.01M327.9 379.4h0.01M301.9 382.1h0.01M311.0 378.8h0.01M313.5 372.4h0.01M315.5 371.9h0.01M324.1 377.5h0.01M318.7 374.5h0.01M324.8 373.9h0.01M305.5 366.0h0.01M317.4 373.1h0.01M323.1 369.4h0.01M312.0 374.9h0.01M332.7 382.9h0.01M315.4 373.9h0.01M310.6 372.8h0.01M322.0 378.8h0.01M310.7 373.9h0.01M303.8 382.6h0.01M327.5 377.9h0.01M314.2 371.1h0.01M328.2 376.0h0.01M312.4 372.9h0.01M323.0 376.5h0.01M312.0 376.0h0.01M296.6 368.5h0.01M319.4 381.0h0.01M307.7 357.9h0.01M310.3 368.6h0.01M328.6 375.5h0.01M323.9 363.6h0.01M310.5 365.7h0.01M323.7 375.7h0.01M307.8 374.5h0.01M312.9 366.8h0.01M308.3 367.4h0.01M309.6 376.7h0.01M317.9 367.6h0.01M300.1 372.3h0.01M322.0 371.9h0.01M315.4 374.6h0.01M304.7 373.2h0.01M326.2 371.9h0.01M307.3 375.9h0.01M319.5 374.6h0.01M313.1 372.5h0.01M305.8 376.8h0.01M312.1 373.5h0.01M309.3 374.6h0.01M319.4 366.8h0.01M308.5 378.4h0.01M313.3 369.9h0.01M311.2 377.2h0.01M318.1 373.4h0.01M312.7 375.8h0.01M332.1 374.6h0.01M310.4 380.1h0.01M316.6 372.5h0.01M312.0 371.2h0.01M318.5 371.7h0.01M308.4 374.4h0.01M315.2 374.1h0.01M321.3 367.1h0.01M317.5 374.4h0.01M314.1 371.7h0.01M313.3 373.8h0.01M313.5 377.5h0.01M316.1 373.0h0.01M317.5 380.2h0.01M322.9 367.4h0.01M319.0 378.4h0.01M313.0 364.1h0.01M308.2 371.1h0.01M302.8 368.2h0.01M329.9 377.9h0.01M316.1 367.2h0.01M308.0 369.6h0.01M310.2 368.9h0.01M319.9 374.1h0.01M307.6 376.9h0.01M306.9 373.3h0.01M306.9 375.2h0.01M320.9 379.0h0.01M298.8 369.6h0.01M321.7 370.0h0.01M312.4 370.9h0.01M318.1 372.1h0.01M305.6 376.3h0.01M325.5 383.7h0.01M311.8 379.3h0.01M307.6 375.4h0.01M320.6 376.4h0.01M312.5 380.7h0.01M303.9 371.2h0.01M308.8 372.1h0.01M301.5 366.4h0.01M313.3 373.8h0.01M319.1 372.0h0.01M316.4 380.9h0.01M312.0 373.9h0.01M321.5 378.8h0.01M319.1 370.2h0.01M310.7 375.8h0.01M308.4 367.4h0.01M311.6 361.8h0.01M299.8 366.5h0.01M309.5 377.0h0.01M309.3 368.5h0.01M310.0 372.7h0.01M310.9 369.3h0.01M301.8 376.3h0.01M309.3 371.9h0.01M312.9 376.5h0.01M307.1 363.6h0.01M323.8 368.9h0.01M314.6 376.7h0.01M305.4 374.9h0.01M317.1 374.1h0.01M319.0 379.9h0.01M309.7 372.4h0.01M309.3 372.2h0.01M319.8 375.3h0.01M319.2 372.5h0.01M312.7 371.2h0.01M311.7 368.6h0.01" stroke="#727272" stroke-width="0.68" stroke-linecap="round" fill="none" opacity="0.8"/>
<path d="M300.6 372.0h0.01M354.3 371.6h0.01M314.6 387.3h0.01M343.3 385.8h0.01M353.5 378.8h0.01M348.9 366.6h0.01M354.0 381.5h0.01M328.0 389.5h0.01M319.4 377.2h0.01M340.8 380.6h0.01M332.8 380.2h0.01M336.0 378.7h0.01M334.1 374.1h0.01M333.7 372.0h0.01M308.0 381.3h0.01M341.4 370.0h0.01M331.7 378.7h0.01M322.5 388.0h0.01M344.9 380.4h0.01M318.8 379.6h0.01M331.1 379.3h0.01M363.1 383.0h0.01M328.1 393.2h0.01M325.2 370.3h0.01M318.2 375.9h0.01M329.4 372.1h0.01M331.4 384.9h0.01M329.0 371.4h0.01M328.8 368.6h0.01M358.4 378.1h0.01M330.6 375.0h0.01M334.2 376.6h0.01M340.0 372.7h0.01M342.8 379.3h0.01M299.0 377.6h0.01M318.4 373.5h0.01M337.3 381.7h0.01M305.1 388.4h0.01M336.5 384.9h0.01M347.4 362.5h0.01M349.0 374.3h0.01M370.1 366.4h0.01M339.4 382.2h0.01M341.8 387.6h0.01M340.7 386.5h0.01M352.1 366.8h0.01M339.6 374.8h0.01M334.6 380.7h0.01M330.9 389.0h0.01M360.3 372.3h0.01M327.8 377.9h0.01M324.4 367.4h0.01M329.3 363.6h0.01M313.2 373.2h0.01M332.3 368.0h0.01M331.7 368.9h0.01M319.4 372.8h0.01M314.9 374.3h0.01M322.1 374.3h0.01M338.7 368.9h0.01M313.2 370.9h0.01M330.4 373.6h0.01M330.6 386.6h0.01M327.4 384.4h0.01M339.7 370.2h0.01M324.9 376.9h0.01M326.5 365.5h0.01M312.9 380.3h0.01M306.5 365.0h0.01M334.0 388.2h0.01M341.8 382.0h0.01M339.6 361.8h0.01M351.5 378.1h0.01M358.8 375.7h0.01M294.3 373.4h0.01M349.5 377.9h0.01M353.2 378.1h0.01M354.8 374.4h0.01M349.1 379.0h0.01M339.4 380.3h0.01M344.5 375.7h0.01M346.0 373.1h0.01M309.6 398.7h0.01M325.7 375.4h0.01M359.7 376.6h0.01M350.6 384.3h0.01M305.1 383.0h0.01M355.9 384.7h0.01M335.9 374.6h0.01M357.1 368.0h0.01M313.1 376.5h0.01M321.8 383.4h0.01M335.2 385.8h0.01M353.9 377.6h0.01M352.3 380.7h0.01M332.2 366.3h0.01M304.0 382.4h0.01M320.5 375.5h0.01M335.2 364.2h0.01M342.5 378.0h0.01M335.1 367.0h0.01M306.9 383.6h0.01M330.2 380.3h0.01M337.9 364.2h0.01M341.6 374.6h0.01M323.5 384.1h0.01M322.4 371.6h0.01M343.6 372.7h0.01M323.7 374.5h0.01M351.7 383.0h0.01M340.8 384.4h0.01M339.7 376.4h0.01M369.4 373.5h0.01M329.2 383.2h0.01M328.0 379.4h0.01M343.4 378.4h0.01M338.3 371.9h0.01M321.8 368.6h0.01M325.7 376.0h0.01M332.0 381.9h0.01M350.3 377.2h0.01M342.1 378.5h0.01M343.4 373.0h0.01M330.5 372.0h0.01M326.7 375.2h0.01M329.9 376.1h0.01M339.3 375.0h0.01M357.2 390.6h0.01M316.5 379.6h0.01M313.7 375.3h0.01M361.3 374.5h0.01M353.2 373.7h0.01M341.5 381.0h0.01M321.9 376.0h0.01M342.5 373.3h0.01M341.9 373.8h0.01M352.4 366.6h0.01M329.0 386.9h0.01M327.2 380.6h0.01M324.5 376.3h0.01M319.9 361.1h0.01M368.0 377.4h0.01M315.3 378.6h0.01M334.2 377.7h0.01M337.1 370.6h0.01M347.3 386.1h0.01M321.8 371.9h0.01M299.6 365.5h0.01M361.4 367.5h0.01M325.2 377.0h0.01M313.0 376.5h0.01M337.1 374.9h0.01M337.8 374.7h0.01M318.4 392.8h0.01M316.6 376.1h0.01M368.0 376.8h0.01M328.4 376.0h0.01M308.4 378.5h0.01M343.5 373.9h0.01M327.8 381.8h0.01M329.0 381.6h0.01M347.6 371.3h0.01M326.7 368.3h0.01M341.1 378.2h0.01M354.3 378.3h0.01M326.1 377.9h0.01M345.9 374.9h0.01M338.9 371.7h0.01M344.1 378.0h0.01M315.9 372.3h0.01M332.9 377.2h0.01M349.2 380.7h0.01M300.4 381.8h0.01M336.4 370.6h0.01M318.8 371.2h0.01M294.8 363.7h0.01M340.5 366.3h0.01M361.2 381.0h0.01M312.7 377.8h0.01M329.4 369.7h0.01M335.1 375.2h0.01M336.9 380.5h0.01M341.3 375.7h0.01M347.1 369.3h0.01M348.7 384.5h0.01M321.3 374.4h0.01M320.7 364.9h0.01M326.7 364.9h0.01M333.7 372.5h0.01M316.6 372.9h0.01M329.9 380.1h0.01M303.2 374.7h0.01M318.6 377.7h0.01M300.0 375.4h0.01M319.5 372.4h0.01M335.2 378.5h0.01M342.4 377.1h0.01M329.6 378.7h0.01M297.8 369.8h0.01M337.4 370.4h0.01M319.9 372.8h0.01M325.1 374.4h0.01M335.8 373.1h0.01M336.8 380.2h0.01M314.8 372.0h0.01M336.9 368.5h0.01M332.7 369.4h0.01M337.8 366.9h0.01M331.3 380.8h0.01M332.6 368.4h0.01M334.1 372.6h0.01M301.1 375.8h0.01M339.8 380.9h0.01M314.1 376.7h0.01M352.9 373.2h0.01M320.3 387.9h0.01M332.1 385.4h0.01M330.4 374.5h0.01M329.7 373.4h0.01M307.6 387.8h0.01M313.3 380.6h0.01M348.5 372.3h0.01M332.0 377.3h0.01M312.5 368.2h0.01M337.7 379.9h0.01M328.6 364.2h0.01M338.6 373.9h0.01M333.0 378.0h0.01M362.2 372.5h0.01M345.1 373.8h0.01M347.6 377.5h0.01M324.6 373.1h0.01M326.9 372.9h0.01M364.2 373.3h0.01M344.9 384.1h0.01M355.2 379.7h0.01M321.6 381.0h0.01M325.6 367.4h0.01M319.6 382.3h0.01M328.8 372.9h0.01M353.8 372.5h0.01M324.3 368.4h0.01M319.2 369.6h0.01M312.2 378.9h0.01M326.2 383.9h0.01M330.9 378.7h0.01M339.5 377.0h0.01M347.6 373.6h0.01M309.8 382.0h0.01M323.0 376.7h0.01M310.7 377.5h0.01M312.7 376.0h0.01M316.8 376.2h0.01M358.4 375.6h0.01M318.3 380.0h0.01M335.4 379.7h0.01M328.5 382.2h0.01M339.0 371.4h0.01M345.3 368.3h0.01M341.9 370.5h0.01M320.5 379.7h0.01M320.6 379.8h0.01M342.4 374.6h0.01M346.2 378.4h0.01M310.2 373.8h0.01M320.2 370.3h0.01M315.2 379.3h0.01M331.3 371.4h0.01M321.4 391.5h0.01M334.9 381.9h0.01M352.4 363.2h0.01M336.1 381.9h0.01M331.7 371.6h0.01M335.3 370.4h0.01M336.0 373.4h0.01M341.9 370.3h0.01M318.3 371.7h0.01M312.1 379.6h0.01M312.9 388.2h0.01M346.4 373.6h0.01M321.5 364.5h0.01M305.5 377.0h0.01M324.4 379.5h0.01M334.1 376.3h0.01M325.9 373.1h0.01M319.2 364.3h0.01M351.8 379.9h0.01M308.4 373.3h0.01M322.2 395.0h0.01M354.5 372.7h0.01M334.3 378.2h0.01M320.0 376.5h0.01M347.8 379.1h0.01M364.1 373.7h0.01M341.6 378.3h0.01M348.5 364.1h0.01M318.5 373.9h0.01M334.4 386.7h0.01M312.4 384.7h0.01M331.8 385.3h0.01M329.5 386.0h0.01M347.8 370.2h0.01M348.5 371.9h0.01M337.3 379.2h0.01M344.8 364.3h0.01M348.5 376.3h0.01M315.1 379.1h0.01M318.9 376.2h0.01M361.1 374.8h0.01M349.7 375.6h0.01M334.6 377.2h0.01M352.4 374.8h0.01M330.9 386.0h0.01M317.2 376.0h0.01M319.5 377.6h0.01M322.5 381.1h0.01M337.2 386.5h0.01M336.8 374.9h0.01M316.6 364.5h0.01M319.6 383.0h0.01M338.6 369.6h0.01M303.7 375.7h0.01M322.6 385.7h0.01M346.9 373.6h0.01M329.0 370.5h0.01M337.8 377.9h0.01M300.4 382.2h0.01M342.5 374.9h0.01M311.9 384.1h0.01M308.1 381.1h0.01M349.7 366.0h0.01M339.8 377.8h0.01M350.2 381.0h0.01M316.3 372.3h0.01M330.2 389.2h0.01M319.3 382.2h0.01M326.2 370.7h0.01M328.8 382.7h0.01M297.7 374.5h0.01M344.7 380.2h0.01M341.3 372.5h0.01M344.4 370.6h0.01M343.6 383.3h0.01M328.9 383.6h0.01M307.9 377.2h0.01M333.4 380.9h0.01M330.1 375.0h0.01M319.4 369.3h0.01M337.1 384.3h0.01M337.2 382.7h0.01M336.6 387.6h0.01M347.4 379.9h0.01M334.9 377.9h0.01M345.6 368.9h0.01M333.9 378.2h0.01M332.9 370.2h0.01M348.1 370.8h0.01M323.1 369.5h0.01M333.5 371.5h0.01M318.9 368.8h0.01M322.3 376.3h0.01M347.8 383.6h0.01M332.0 382.3h0.01M328.8 374.3h0.01M352.7 372.6h0.01M338.7 383.7h0.01M330.7 388.6h0.01M330.1 376.4h0.01M341.3 375.5h0.01M327.9 378.0h0.01M312.7 378.0h0.01M316.3 371.2h0.01M307.3 376.0h0.01M323.6 369.0h0.01M333.7 379.2h0.01M332.2 381.7h0.01M311.1 371.9h0.01M349.1 378.4h0.01M337.8 380.8h0.01M357.7 385.9h0.01M331.2 387.0h0.01M336.5 370.5h0.01M342.4 383.0h0.01M359.2 376.4h0.01M331.3 385.6h0.01M314.9 382.1h0.01M331.5 384.1h0.01M319.2 381.9h0.01M317.5 372.7h0.01M320.9 386.5h0.01M343.0 362.6h0.01M334.9 379.0h0.01M356.4 378.4h0.01M334.5 376.6h0.01M342.2 370.4h0.01M311.4 370.1h0.01M326.1 376.7h0.01" stroke="#8c8c8c" stroke-width="0.66" stroke-linecap="round" fill="none" opacity="0.75"/>
<path d="M313.2 373.6h0.01M305.4 382.6h0.01M318.6 387.3h0.01M314.1 390.6h0.01M335.0 384.9h0.01M312.3 382.3h0.01M319.5 374.8h0.01M334.2 370.0h0.01M311.1 402.4h0.01M318.3 382.9h0.01M317.6 386.9h0.01M316.3 388.3h0.01M338.1 374.9h0.01M355.6 380.1h0.01M331.2 392.2h0.01M327.8 392.1h0.01M326.5 386.9h0.01M343.9 386.6h0.01M315.5 378.8h0.01M314.3 377.8h0.01M321.8 371.6h0.01M305.1 391.1h0.01M323.4 397.5h0.01M320.9 375.5h0.01M329.9 384.1h0.01M343.0 389.3h0.01M317.0 396.6h0.01M315.3 385.1h0.01M305.8 387.7h0.01M324.6 377.7h0.01M333.2 393.1h0.01M308.6 384.2h0.01M326.7 381.5h0.01M314.8 374.7h0.01M332.7 391.6h0.01M309.0 387.0h0.01M310.8 384.5h0.01M303.9 381.3h0.01M313.2 378.7h0.01M320.6 397.6h0.01M333.7 386.8h0.01M308.8 380.1h0.01M310.5 379.2h0.01M330.1 394.7h0.01M320.0 367.8h0.01M302.2 383.3h0.01M309.9 375.6h0.01M324.0 368.6h0.01M302.0 385.4h0.01M324.7 398.0h0.01M302.5 383.1h0.01M301.8 381.7h0.01M302.6 389.0h0.01M323.2 387.2h0.01M312.9 389.1h0.01M326.8 386.1h0.01M333.7 389.0h0.01M322.1 390.7h0.01M328.8 386.0h0.01M327.0 392.7h0.01M338.3 391.8h0.01M318.7 391.1h0.01M322.2 383.2h0.01M327.1 386.6h0.01M315.8 394.4h0.01M326.5 380.7h0.01M318.8 382.3h0.01M306.1 386.1h0.01M306.9 379.3h0.01M292.7 397.0h0.01M338.0 393.5h0.01M317.8 397.8h0.01M313.0 392.1h0.01M303.2 382.0h0.01M325.4 387.7h0.01M315.1 380.4h0.01M310.8 387.4h0.01M317.9 391.0h0.01M333.6 390.5h0.01M313.7 387.2h0.01M321.4 381.0h0.01M315.7 383.4h0.01M312.0 390.0h0.01M326.4 389.8h0.01M318.0 396.6h0.01M322.0 379.5h0.01M331.3 376.2h0.01M312.3 387.8h0.01M325.4 380.3h0.01M317.6 396.6h0.01M308.6 378.0h0.01M330.6 382.0h0.01M309.3 389.5h0.01M314.5 382.5h0.01M311.2 388.4h0.01M308.4 394.2h0.01M342.5 396.5h0.01M335.6 385.8h0.01M315.2 388.1h0.01M318.4 392.5h0.01M334.9 387.4h0.01M325.2 395.0h0.01M322.7 396.6h0.01M313.6 388.4h0.01M325.4 382.3h0.01M330.0 383.7h0.01M324.5 381.6h0.01M308.2 386.5h0.01M304.8 372.3h0.01M329.9 375.0h0.01M333.1 384.8h0.01M317.5 396.3h0.01M302.9 396.8h0.01M338.1 392.0h0.01M307.1 391.3h0.01M308.5 396.8h0.01M319.4 397.5h0.01M321.5 382.1h0.01M322.1 382.0h0.01M303.9 394.1h0.01M321.1 385.3h0.01M307.7 390.7h0.01M336.3 384.6h0.01M321.1 384.9h0.01M313.8 381.2h0.01M338.4 392.8h0.01M329.3 380.3h0.01M311.4 383.5h0.01M320.6 382.8h0.01M306.8 372.0h0.01M327.6 390.4h0.01M337.7 376.0h0.01M312.3 385.2h0.01M305.3 393.4h0.01M305.3 392.9h0.01M333.1 385.7h0.01M329.5 380.1h0.01M338.2 383.1h0.01M322.6 385.8h0.01M331.2 380.2h0.01M332.3 384.7h0.01M320.9 386.1h0.01M327.4 385.4h0.01M310.1 392.3h0.01M326.3 382.6h0.01M319.2 379.1h0.01M325.7 384.5h0.01M301.0 393.3h0.01M322.9 398.6h0.01M318.8 372.6h0.01M311.8 397.4h0.01M332.7 397.8h0.01M313.1 388.2h0.01M322.3 388.7h0.01M310.4 396.2h0.01M302.7 381.9h0.01M316.6 379.6h0.01M314.3 396.2h0.01M310.2 380.5h0.01M322.8 397.6h0.01M343.2 379.4h0.01M325.6 386.0h0.01M343.4 402.5h0.01M318.0 400.9h0.01M314.1 394.6h0.01M312.0 382.9h0.01M314.6 387.1h0.01M318.3 389.7h0.01M299.3 374.4h0.01M330.1 403.0h0.01M310.8 394.6h0.01M322.7 395.0h0.01M328.6 382.6h0.01M322.8 391.1h0.01M326.7 395.7h0.01M304.4 386.5h0.01M314.0 390.4h0.01M318.2 375.4h0.01M315.4 371.4h0.01M309.8 386.7h0.01M329.2 391.7h0.01M303.5 395.6h0.01M337.2 390.1h0.01M331.2 389.7h0.01M322.0 402.3h0.01M333.7 385.0h0.01M344.8 387.1h0.01" stroke="#989898" stroke-width="0.66" stroke-linecap="round" fill="none" opacity="0.7"/>
<path d="M354.1 398.2h0.01M361.9 382.6h0.01M357.3 395.0h0.01M357.5 393.0h0.01M341.2 392.0h0.01M348.3 403.2h0.01M346.8 387.6h0.01M373.9 399.6h0.01M357.7 397.1h0.01M361.9 394.7h0.01M358.2 390.9h0.01M352.1 415.1h0.01M350.6 387.0h0.01M351.1 386.1h0.01M337.9 387.4h0.01M374.9 418.2h0.01M356.6 404.3h0.01M363.6 415.9h0.01M350.7 399.7h0.01M364.3 395.4h0.01M351.2 393.4h0.01M336.8 398.0h0.01M373.6 386.4h0.01M355.8 368.3h0.01M361.3 412.1h0.01M371.9 403.0h0.01M347.4 402.6h0.01M353.0 394.8h0.01M328.0 379.2h0.01M359.3 376.9h0.01M371.4 404.3h0.01M369.2 394.5h0.01M375.0 400.9h0.01M344.8 370.7h0.01M348.8 408.6h0.01M363.1 388.3h0.01M336.5 385.8h0.01M360.3 381.5h0.01M363.2 400.1h0.01M374.9 380.4h0.01M353.1 410.3h0.01M352.0 390.0h0.01M350.6 404.4h0.01M360.1 395.0h0.01M354.9 396.0h0.01M354.1 412.6h0.01M358.1 371.4h0.01M364.3 365.2h0.01M343.4 397.4h0.01M359.7 396.7h0.01M369.3 394.3h0.01M370.0 394.3h0.01M348.8 377.0h0.01M360.6 392.7h0.01M368.4 399.2h0.01M364.9 397.3h0.01M358.3 395.0h0.01M348.6 415.2h0.01M362.8 376.5h0.01M359.6 412.7h0.01M344.5 385.0h0.01M352.3 417.9h0.01M357.4 407.7h0.01M369.2 410.2h0.01M346.1 387.7h0.01M355.2 381.3h0.01M354.0 406.1h0.01M365.6 390.8h0.01M352.4 392.9h0.01M344.5 389.8h0.01M345.4 407.8h0.01M375.6 370.8h0.01M342.1 398.4h0.01M360.5 403.4h0.01M367.2 402.9h0.01M343.9 390.5h0.01M335.0 398.8h0.01M356.0 378.0h0.01M347.0 387.5h0.01M341.1 371.3h0.01M348.1 396.3h0.01M345.5 412.4h0.01M361.8 374.5h0.01M348.2 386.9h0.01M365.1 411.9h0.01M358.0 383.3h0.01M362.8 377.0h0.01M356.6 400.1h0.01M352.8 395.3h0.01M360.5 401.2h0.01M339.8 391.8h0.01M358.9 398.9h0.01M362.4 397.7h0.01M336.1 384.4h0.01M361.6 372.0h0.01M355.3 374.7h0.01M334.4 387.9h0.01M359.2 411.8h0.01M377.9 376.7h0.01M349.5 407.8h0.01M360.2 405.3h0.01M333.6 394.4h0.01M353.2 376.1h0.01M371.4 404.1h0.01M354.0 383.4h0.01M358.3 373.0h0.01M373.8 377.9h0.01M350.2 420.4h0.01M358.3 389.4h0.01M364.7 383.8h0.01M358.3 385.9h0.01M354.4 382.0h0.01M360.9 390.6h0.01M362.0 411.0h0.01M355.1 381.7h0.01M346.1 402.7h0.01M338.3 400.8h0.01M351.6 383.2h0.01M351.2 400.4h0.01M353.4 378.5h0.01M366.6 402.8h0.01M377.4 388.2h0.01M380.6 403.6h0.01M348.1 384.0h0.01M361.4 408.8h0.01M379.6 403.8h0.01M373.7 376.8h0.01M361.9 393.6h0.01M339.6 411.0h0.01M343.2 412.9h0.01M363.8 405.8h0.01M362.1 389.4h0.01M357.2 391.9h0.01M356.7 393.9h0.01M380.3 392.4h0.01M348.7 389.4h0.01M379.7 378.7h0.01M352.2 402.1h0.01M352.8 379.5h0.01M360.3 391.6h0.01M364.5 398.3h0.01M341.2 400.3h0.01M350.2 370.4h0.01M365.0 418.3h0.01M352.0 393.7h0.01M348.1 393.8h0.01M343.0 389.9h0.01M355.3 400.0h0.01" stroke="#989898" stroke-width="0.66" stroke-linecap="round" fill="none" opacity="0.7"/>
<path d="M311.1 385.8h0.01M368.7 406.0h0.01M324.0 380.9h0.01M308.0 393.5h0.01M311.3 361.1h0.01M349.8 394.4h0.01M321.2 373.6h0.01M357.1 368.4h0.01M299.1 415.0h0.01M300.9 370.7h0.01M310.4 386.0h0.01M359.1 371.2h0.01M295.2 368.8h0.01M351.1 408.2h0.01M377.6 394.8h0.01M329.9 378.4h0.01M345.0 382.3h0.01M313.7 357.3h0.01M314.2 360.6h0.01M318.0 390.4h0.01M323.4 369.0h0.01M295.5 380.0h0.01M337.3 390.6h0.01M292.5 362.3h0.01M340.8 380.4h0.01M331.1 413.6h0.01M363.8 399.3h0.01M383.6 393.3h0.01M361.4 416.4h0.01M354.5 386.8h0.01M310.2 394.3h0.01M300.6 375.3h0.01M296.6 394.8h0.01M362.6 388.0h0.01M328.1 381.4h0.01M354.8 404.6h0.01M322.1 373.4h0.01" stroke="#aaaaaa" stroke-width="0.66" stroke-linecap="round" fill="none" opacity="0.6"/>
<path d="M289.4 331.3V427.0H385.0" fill="none" stroke="#8a8a8a" stroke-width="0.9"/>
<path d="M289.4 331.3H385.0V427.0" fill="none" stroke="#333" stroke-width="0.9"/>
<line x1="287.00" y1="339.60" x2="289.40" y2="339.60" stroke="#333" stroke-width="0.9"/>
<line x1="288.10" y1="355.12" x2="289.40" y2="355.12" stroke="#3a3a3a" stroke-width="0.6"/>
<line x1="288.10" y1="351.21" x2="289.40" y2="351.21" stroke="#3a3a3a" stroke-width="0.6"/>
<line x1="288.10" y1="348.43" x2="289.40" y2="348.43" stroke="#3a3a3a" stroke-width="0.6"/>
<line x1="288.10" y1="346.28" x2="289.40" y2="346.28" stroke="#3a3a3a" stroke-width="0.6"/>
<line x1="288.10" y1="344.53" x2="289.40" y2="344.53" stroke="#3a3a3a" stroke-width="0.6"/>
<line x1="288.10" y1="343.04" x2="289.40" y2="343.04" stroke="#3a3a3a" stroke-width="0.6"/>
<line x1="288.10" y1="341.75" x2="289.40" y2="341.75" stroke="#3a3a3a" stroke-width="0.6"/>
<line x1="288.10" y1="340.62" x2="289.40" y2="340.62" stroke="#3a3a3a" stroke-width="0.6"/>
<line x1="287.00" y1="361.80" x2="289.40" y2="361.80" stroke="#333" stroke-width="0.9"/>
<line x1="288.10" y1="377.32" x2="289.40" y2="377.32" stroke="#3a3a3a" stroke-width="0.6"/>
<line x1="288.10" y1="373.41" x2="289.40" y2="373.41" stroke="#3a3a3a" stroke-width="0.6"/>
<line x1="288.10" y1="370.63" x2="289.40" y2="370.63" stroke="#3a3a3a" stroke-width="0.6"/>
<line x1="288.10" y1="368.48" x2="289.40" y2="368.48" stroke="#3a3a3a" stroke-width="0.6"/>
<line x1="288.10" y1="366.73" x2="289.40" y2="366.73" stroke="#3a3a3a" stroke-width="0.6"/>
<line x1="288.10" y1="365.24" x2="289.40" y2="365.24" stroke="#3a3a3a" stroke-width="0.6"/>
<line x1="288.10" y1="363.95" x2="289.40" y2="363.95" stroke="#3a3a3a" stroke-width="0.6"/>
<line x1="288.10" y1="362.82" x2="289.40" y2="362.82" stroke="#3a3a3a" stroke-width="0.6"/>
<line x1="287.00" y1="384.00" x2="289.40" y2="384.00" stroke="#333" stroke-width="0.9"/>
<line x1="288.10" y1="399.52" x2="289.40" y2="399.52" stroke="#3a3a3a" stroke-width="0.6"/>
<line x1="288.10" y1="395.61" x2="289.40" y2="395.61" stroke="#3a3a3a" stroke-width="0.6"/>
<line x1="288.10" y1="392.83" x2="289.40" y2="392.83" stroke="#3a3a3a" stroke-width="0.6"/>
<line x1="288.10" y1="390.68" x2="289.40" y2="390.68" stroke="#3a3a3a" stroke-width="0.6"/>
<line x1="288.10" y1="388.93" x2="289.40" y2="388.93" stroke="#3a3a3a" stroke-width="0.6"/>
<line x1="288.10" y1="387.44" x2="289.40" y2="387.44" stroke="#3a3a3a" stroke-width="0.6"/>
<line x1="288.10" y1="386.15" x2="289.40" y2="386.15" stroke="#3a3a3a" stroke-width="0.6"/>
<line x1="288.10" y1="385.02" x2="289.40" y2="385.02" stroke="#3a3a3a" stroke-width="0.6"/>
<line x1="287.00" y1="406.20" x2="289.40" y2="406.20" stroke="#333" stroke-width="0.9"/>
<line x1="288.10" y1="415.03" x2="289.40" y2="415.03" stroke="#3a3a3a" stroke-width="0.6"/>
<line x1="288.10" y1="412.88" x2="289.40" y2="412.88" stroke="#3a3a3a" stroke-width="0.6"/>
<line x1="288.10" y1="411.13" x2="289.40" y2="411.13" stroke="#3a3a3a" stroke-width="0.6"/>
<line x1="288.10" y1="409.64" x2="289.40" y2="409.64" stroke="#3a3a3a" stroke-width="0.6"/>
<line x1="288.10" y1="408.35" x2="289.40" y2="408.35" stroke="#3a3a3a" stroke-width="0.6"/>
<line x1="288.10" y1="407.22" x2="289.40" y2="407.22" stroke="#3a3a3a" stroke-width="0.6"/>
<line x1="288.10" y1="332.92" x2="289.40" y2="332.92" stroke="#3a3a3a" stroke-width="0.6"/>
<line x1="286.80" y1="417.10" x2="289.40" y2="417.10" stroke="#111" stroke-width="1.6"/>
<line x1="288.10" y1="420.10" x2="289.40" y2="420.10" stroke="#3a3a3a" stroke-width="0.6"/>
<line x1="288.10" y1="422.10" x2="289.40" y2="422.10" stroke="#3a3a3a" stroke-width="0.6"/>
<line x1="288.10" y1="423.60" x2="289.40" y2="423.60" stroke="#3a3a3a" stroke-width="0.6"/>
<line x1="317.40" y1="427.00" x2="317.40" y2="429.40" stroke="#333" stroke-width="0.9"/>
<line x1="335.30" y1="427.00" x2="335.30" y2="429.40" stroke="#333" stroke-width="0.9"/>
<line x1="354.80" y1="427.00" x2="354.80" y2="429.40" stroke="#333" stroke-width="0.9"/>
<line x1="373.00" y1="427.00" x2="373.00" y2="429.40" stroke="#333" stroke-width="0.9"/>
<line x1="304.40" y1="427.00" x2="304.40" y2="428.30" stroke="#3a3a3a" stroke-width="0.6"/>
<line x1="307.67" y1="427.00" x2="307.67" y2="428.30" stroke="#3a3a3a" stroke-width="0.6"/>
<line x1="310.00" y1="427.00" x2="310.00" y2="428.30" stroke="#3a3a3a" stroke-width="0.6"/>
<line x1="311.80" y1="427.00" x2="311.80" y2="428.30" stroke="#3a3a3a" stroke-width="0.6"/>
<line x1="313.27" y1="427.00" x2="313.27" y2="428.30" stroke="#3a3a3a" stroke-width="0.6"/>
<line x1="314.52" y1="427.00" x2="314.52" y2="428.30" stroke="#3a3a3a" stroke-width="0.6"/>
<line x1="315.60" y1="427.00" x2="315.60" y2="428.30" stroke="#3a3a3a" stroke-width="0.6"/>
<line x1="316.55" y1="427.00" x2="316.55" y2="428.30" stroke="#3a3a3a" stroke-width="0.6"/>
<line x1="322.30" y1="427.00" x2="322.30" y2="428.30" stroke="#3a3a3a" stroke-width="0.6"/>
<line x1="325.57" y1="427.00" x2="325.57" y2="428.30" stroke="#3a3a3a" stroke-width="0.6"/>
<line x1="327.90" y1="427.00" x2="327.90" y2="428.30" stroke="#3a3a3a" stroke-width="0.6"/>
<line x1="329.70" y1="427.00" x2="329.70" y2="428.30" stroke="#3a3a3a" stroke-width="0.6"/>
<line x1="331.17" y1="427.00" x2="331.17" y2="428.30" stroke="#3a3a3a" stroke-width="0.6"/>
<line x1="332.42" y1="427.00" x2="332.42" y2="428.30" stroke="#3a3a3a" stroke-width="0.6"/>
<line x1="333.50" y1="427.00" x2="333.50" y2="428.30" stroke="#3a3a3a" stroke-width="0.6"/>
<line x1="334.45" y1="427.00" x2="334.45" y2="428.30" stroke="#3a3a3a" stroke-width="0.6"/>
<line x1="341.80" y1="427.00" x2="341.80" y2="428.30" stroke="#3a3a3a" stroke-width="0.6"/>
<line x1="345.07" y1="427.00" x2="345.07" y2="428.30" stroke="#3a3a3a" stroke-width="0.6"/>
<line x1="347.40" y1="427.00" x2="347.40" y2="428.30" stroke="#3a3a3a" stroke-width="0.6"/>
<line x1="349.20" y1="427.00" x2="349.20" y2="428.30" stroke="#3a3a3a" stroke-width="0.6"/>
<line x1="350.67" y1="427.00" x2="350.67" y2="428.30" stroke="#3a3a3a" stroke-width="0.6"/>
<line x1="351.92" y1="427.00" x2="351.92" y2="428.30" stroke="#3a3a3a" stroke-width="0.6"/>
<line x1="353.00" y1="427.00" x2="353.00" y2="428.30" stroke="#3a3a3a" stroke-width="0.6"/>
<line x1="353.95" y1="427.00" x2="353.95" y2="428.30" stroke="#3a3a3a" stroke-width="0.6"/>
<line x1="360.00" y1="427.00" x2="360.00" y2="428.30" stroke="#3a3a3a" stroke-width="0.6"/>
<line x1="363.27" y1="427.00" x2="363.27" y2="428.30" stroke="#3a3a3a" stroke-width="0.6"/>
<line x1="365.60" y1="427.00" x2="365.60" y2="428.30" stroke="#3a3a3a" stroke-width="0.6"/>
<line x1="367.40" y1="427.00" x2="367.40" y2="428.30" stroke="#3a3a3a" stroke-width="0.6"/>
<line x1="368.87" y1="427.00" x2="368.87" y2="428.30" stroke="#3a3a3a" stroke-width="0.6"/>
<line x1="370.12" y1="427.00" x2="370.12" y2="428.30" stroke="#3a3a3a" stroke-width="0.6"/>
<line x1="371.20" y1="427.00" x2="371.20" y2="428.30" stroke="#3a3a3a" stroke-width="0.6"/>
<line x1="372.15" y1="427.00" x2="372.15" y2="428.30" stroke="#3a3a3a" stroke-width="0.6"/>
<line x1="378.60" y1="427.00" x2="378.60" y2="428.30" stroke="#3a3a3a" stroke-width="0.6"/>
<line x1="381.87" y1="427.00" x2="381.87" y2="428.30" stroke="#3a3a3a" stroke-width="0.6"/>
<line x1="384.20" y1="427.00" x2="384.20" y2="428.30" stroke="#3a3a3a" stroke-width="0.6"/>
<line x1="298.60" y1="427.00" x2="298.60" y2="429.60" stroke="#111" stroke-width="1.6"/>
<line x1="295.60" y1="427.00" x2="295.60" y2="428.30" stroke="#3a3a3a" stroke-width="0.6"/>
<line x1="293.60" y1="427.00" x2="293.60" y2="428.30" stroke="#3a3a3a" stroke-width="0.6"/>
<line x1="292.10" y1="427.00" x2="292.10" y2="428.30" stroke="#3a3a3a" stroke-width="0.6"/>
<rect x="332.50" y="385.50" width="43.00" height="33.00" fill="none" stroke="#606060" stroke-width="0.75"/>
<text x="314" y="419.5" font-size="9" text-anchor="middle" fill="#151515" >HSC</text>
<text x="331.8" y="441.5" font-size="9" text-anchor="middle" fill="#151515" >CD150</text>
<text transform="translate(283.2,243.0) rotate(-90)" font-size="9.5" text-anchor="middle" fill="#222">CD48</text>
<text transform="translate(282.2,378.4) rotate(-90)" font-size="9.5" text-anchor="middle" fill="#222">CD48</text>
<text transform="translate(405.8,240.4) rotate(-90)" font-size="9" text-anchor="middle" fill="#222">CD45.2+</text>
<text transform="translate(405.8,377.5) rotate(-90)" font-size="9" text-anchor="middle" fill="#222">CD45.2+</text>
<text x="249" y="223.8" font-size="9" text-anchor="middle" fill="#151515" >3:1</text>
<text x="234.2" y="240" font-size="9.5" fill="#222"><tspan font-style="italic">Dot1l</tspan><tspan font-style="italic" font-size="6.6" dx="1.8" dy="-3.7" letter-spacing="0.7" stroke-width="0.1">+/+</tspan></text>
<text x="231.4" y="254.6" font-size="9.1" text-anchor="start" fill="#151515" >: B6.SJL</text>
<text x="248.2" y="372" font-size="9" text-anchor="middle" fill="#151515" >3:1</text>
<text x="234.2" y="389.2" font-size="9.5" fill="#222"><tspan font-style="italic">Dot1l</tspan><tspan font-style="italic" font-size="6.3" dx="1.8" dy="-3.7" letter-spacing="0.35" stroke-width="0.1">F/F</tspan></text>
<text x="231.8" y="403.6" font-size="9.1" text-anchor="start" fill="#151515" >: B6.SJL</text>
<path d="M448.9 235.0h0.01M456.2 227.9h0.01M417.6 235.5h0.01M422.6 239.2h0.01M457.5 232.9h0.01M431.3 233.7h0.01M422.8 230.1h0.01M455.4 227.0h0.01M427.2 233.0h0.01M447.9 237.6h0.01M461.8 228.8h0.01M428.3 236.4h0.01M455.8 234.3h0.01M447.1 225.9h0.01M480.7 234.6h0.01M434.8 238.3h0.01M468.7 229.0h0.01M446.9 230.0h0.01M444.6 239.7h0.01M447.9 237.9h0.01M459.9 234.1h0.01M448.0 232.1h0.01M458.9 226.1h0.01M430.2 233.1h0.01M459.9 233.5h0.01M432.6 231.1h0.01M456.0 238.0h0.01M446.2 230.7h0.01M427.1 234.0h0.01M427.0 234.6h0.01M443.7 222.4h0.01M438.5 229.0h0.01M457.2 232.1h0.01M446.4 235.6h0.01M445.9 240.9h0.01M440.6 234.4h0.01M453.3 231.7h0.01M448.9 239.8h0.01M435.2 229.0h0.01M461.0 235.5h0.01M450.6 233.8h0.01M473.8 235.4h0.01M429.8 224.9h0.01M464.4 240.0h0.01M463.8 235.2h0.01M457.1 231.7h0.01M441.9 239.0h0.01M439.2 237.8h0.01M431.9 236.3h0.01M442.8 236.3h0.01M423.7 235.6h0.01M436.8 234.2h0.01M425.5 231.3h0.01M493.2 230.0h0.01M429.6 224.6h0.01M464.0 233.1h0.01M443.4 233.1h0.01M462.2 228.9h0.01M457.5 235.4h0.01M437.8 235.1h0.01M446.6 223.1h0.01M461.3 232.7h0.01M454.2 237.1h0.01M462.7 227.9h0.01M453.1 233.0h0.01M469.1 235.1h0.01M451.3 229.7h0.01M449.0 233.0h0.01M433.0 235.7h0.01M436.9 232.9h0.01M454.0 242.3h0.01M444.4 234.0h0.01M452.8 237.9h0.01M423.2 243.0h0.01M453.7 231.5h0.01M459.6 231.5h0.01M435.6 223.9h0.01M440.1 241.5h0.01M450.1 226.8h0.01M444.3 227.7h0.01M423.5 232.0h0.01M435.7 233.9h0.01M440.9 227.9h0.01" stroke="#7a7a7a" stroke-width="0.9" stroke-linecap="round" fill="none" opacity="0.85"/>
<path d="M420.0 257.5h0.01M444.0 270.4h0.01M430.6 278.6h0.01M417.8 273.5h0.01M436.5 273.0h0.01M437.5 280.5h0.01M455.2 272.4h0.01M465.8 262.0h0.01" stroke="#ccc" stroke-width="0.9" stroke-linecap="round" fill="none" opacity="0.8"/>
<path d="M478.0 278.5h0.01M456.0 282.2h0.01M460.6 252.0h0.01M485.9 253.8h0.01M478.9 284.9h0.01M484.0 230.8h0.01" stroke="#ccc" stroke-width="0.9" stroke-linecap="round" fill="none" opacity="0.8"/>
<path d="M415 197V291.3H509.6" fill="none" stroke="#333" stroke-width="0.9"/>
<path d="M415 197H509.6V291.3" fill="none" stroke="#333" stroke-width="0.9"/>
<line x1="411.60" y1="212.50" x2="415.00" y2="212.50" stroke="#333" stroke-width="0.9"/>
<line x1="413.10" y1="224.24" x2="415.00" y2="224.24" stroke="#3a3a3a" stroke-width="0.8"/>
<line x1="413.10" y1="221.28" x2="415.00" y2="221.28" stroke="#3a3a3a" stroke-width="0.8"/>
<line x1="413.10" y1="219.19" x2="415.00" y2="219.19" stroke="#3a3a3a" stroke-width="0.8"/>
<line x1="413.10" y1="217.56" x2="415.00" y2="217.56" stroke="#3a3a3a" stroke-width="0.8"/>
<line x1="413.10" y1="216.23" x2="415.00" y2="216.23" stroke="#3a3a3a" stroke-width="0.8"/>
<line x1="413.10" y1="215.10" x2="415.00" y2="215.10" stroke="#3a3a3a" stroke-width="0.8"/>
<line x1="413.10" y1="214.13" x2="415.00" y2="214.13" stroke="#3a3a3a" stroke-width="0.8"/>
<line x1="413.10" y1="213.27" x2="415.00" y2="213.27" stroke="#3a3a3a" stroke-width="0.8"/>
<line x1="411.60" y1="228.10" x2="415.00" y2="228.10" stroke="#333" stroke-width="0.9"/>
<line x1="413.10" y1="239.84" x2="415.00" y2="239.84" stroke="#3a3a3a" stroke-width="0.8"/>
<line x1="413.10" y1="236.88" x2="415.00" y2="236.88" stroke="#3a3a3a" stroke-width="0.8"/>
<line x1="413.10" y1="234.79" x2="415.00" y2="234.79" stroke="#3a3a3a" stroke-width="0.8"/>
<line x1="413.10" y1="233.16" x2="415.00" y2="233.16" stroke="#3a3a3a" stroke-width="0.8"/>
<line x1="413.10" y1="231.83" x2="415.00" y2="231.83" stroke="#3a3a3a" stroke-width="0.8"/>
<line x1="413.10" y1="230.70" x2="415.00" y2="230.70" stroke="#3a3a3a" stroke-width="0.8"/>
<line x1="413.10" y1="229.73" x2="415.00" y2="229.73" stroke="#3a3a3a" stroke-width="0.8"/>
<line x1="413.10" y1="228.87" x2="415.00" y2="228.87" stroke="#3a3a3a" stroke-width="0.8"/>
<line x1="411.60" y1="245.30" x2="415.00" y2="245.30" stroke="#333" stroke-width="0.9"/>
<line x1="413.10" y1="257.04" x2="415.00" y2="257.04" stroke="#3a3a3a" stroke-width="0.8"/>
<line x1="413.10" y1="254.08" x2="415.00" y2="254.08" stroke="#3a3a3a" stroke-width="0.8"/>
<line x1="413.10" y1="251.99" x2="415.00" y2="251.99" stroke="#3a3a3a" stroke-width="0.8"/>
<line x1="413.10" y1="250.36" x2="415.00" y2="250.36" stroke="#3a3a3a" stroke-width="0.8"/>
<line x1="413.10" y1="249.03" x2="415.00" y2="249.03" stroke="#3a3a3a" stroke-width="0.8"/>
<line x1="413.10" y1="247.90" x2="415.00" y2="247.90" stroke="#3a3a3a" stroke-width="0.8"/>
<line x1="413.10" y1="246.93" x2="415.00" y2="246.93" stroke="#3a3a3a" stroke-width="0.8"/>
<line x1="413.10" y1="246.07" x2="415.00" y2="246.07" stroke="#3a3a3a" stroke-width="0.8"/>
<line x1="411.60" y1="262.50" x2="415.00" y2="262.50" stroke="#333" stroke-width="0.9"/>
<line x1="413.10" y1="274.24" x2="415.00" y2="274.24" stroke="#3a3a3a" stroke-width="0.8"/>
<line x1="413.10" y1="271.28" x2="415.00" y2="271.28" stroke="#3a3a3a" stroke-width="0.8"/>
<line x1="413.10" y1="269.19" x2="415.00" y2="269.19" stroke="#3a3a3a" stroke-width="0.8"/>
<line x1="413.10" y1="267.56" x2="415.00" y2="267.56" stroke="#3a3a3a" stroke-width="0.8"/>
<line x1="413.10" y1="266.23" x2="415.00" y2="266.23" stroke="#3a3a3a" stroke-width="0.8"/>
<line x1="413.10" y1="265.10" x2="415.00" y2="265.10" stroke="#3a3a3a" stroke-width="0.8"/>
<line x1="413.10" y1="264.13" x2="415.00" y2="264.13" stroke="#3a3a3a" stroke-width="0.8"/>
<line x1="413.10" y1="263.27" x2="415.00" y2="263.27" stroke="#3a3a3a" stroke-width="0.8"/>
<line x1="413.10" y1="207.44" x2="415.00" y2="207.44" stroke="#3a3a3a" stroke-width="0.8"/>
<line x1="413.10" y1="204.48" x2="415.00" y2="204.48" stroke="#3a3a3a" stroke-width="0.8"/>
<line x1="413.10" y1="202.39" x2="415.00" y2="202.39" stroke="#3a3a3a" stroke-width="0.8"/>
<line x1="413.10" y1="200.76" x2="415.00" y2="200.76" stroke="#3a3a3a" stroke-width="0.8"/>
<line x1="413.10" y1="199.43" x2="415.00" y2="199.43" stroke="#3a3a3a" stroke-width="0.8"/>
<line x1="413.10" y1="198.30" x2="415.00" y2="198.30" stroke="#3a3a3a" stroke-width="0.8"/>
<line x1="412.40" y1="277.10" x2="415.00" y2="277.10" stroke="#111" stroke-width="1.6"/>
<line x1="413.10" y1="280.10" x2="415.00" y2="280.10" stroke="#3a3a3a" stroke-width="0.8"/>
<line x1="413.10" y1="282.10" x2="415.00" y2="282.10" stroke="#3a3a3a" stroke-width="0.8"/>
<line x1="413.10" y1="283.60" x2="415.00" y2="283.60" stroke="#3a3a3a" stroke-width="0.8"/>
<line x1="446.00" y1="291.30" x2="446.00" y2="294.50" stroke="#333" stroke-width="0.9"/>
<line x1="464.00" y1="291.30" x2="464.00" y2="294.50" stroke="#333" stroke-width="0.9"/>
<line x1="482.00" y1="291.30" x2="482.00" y2="294.50" stroke="#333" stroke-width="0.9"/>
<line x1="500.00" y1="291.30" x2="500.00" y2="294.50" stroke="#333" stroke-width="0.9"/>
<line x1="433.42" y1="291.30" x2="433.42" y2="293.20" stroke="#3a3a3a" stroke-width="0.8"/>
<line x1="436.59" y1="291.30" x2="436.59" y2="293.20" stroke="#3a3a3a" stroke-width="0.8"/>
<line x1="438.84" y1="291.30" x2="438.84" y2="293.20" stroke="#3a3a3a" stroke-width="0.8"/>
<line x1="440.58" y1="291.30" x2="440.58" y2="293.20" stroke="#3a3a3a" stroke-width="0.8"/>
<line x1="442.01" y1="291.30" x2="442.01" y2="293.20" stroke="#3a3a3a" stroke-width="0.8"/>
<line x1="443.21" y1="291.30" x2="443.21" y2="293.20" stroke="#3a3a3a" stroke-width="0.8"/>
<line x1="444.26" y1="291.30" x2="444.26" y2="293.20" stroke="#3a3a3a" stroke-width="0.8"/>
<line x1="445.18" y1="291.30" x2="445.18" y2="293.20" stroke="#3a3a3a" stroke-width="0.8"/>
<line x1="451.42" y1="291.30" x2="451.42" y2="293.20" stroke="#3a3a3a" stroke-width="0.8"/>
<line x1="454.59" y1="291.30" x2="454.59" y2="293.20" stroke="#3a3a3a" stroke-width="0.8"/>
<line x1="456.84" y1="291.30" x2="456.84" y2="293.20" stroke="#3a3a3a" stroke-width="0.8"/>
<line x1="458.58" y1="291.30" x2="458.58" y2="293.20" stroke="#3a3a3a" stroke-width="0.8"/>
<line x1="460.01" y1="291.30" x2="460.01" y2="293.20" stroke="#3a3a3a" stroke-width="0.8"/>
<line x1="461.21" y1="291.30" x2="461.21" y2="293.20" stroke="#3a3a3a" stroke-width="0.8"/>
<line x1="462.26" y1="291.30" x2="462.26" y2="293.20" stroke="#3a3a3a" stroke-width="0.8"/>
<line x1="463.18" y1="291.30" x2="463.18" y2="293.20" stroke="#3a3a3a" stroke-width="0.8"/>
<line x1="469.42" y1="291.30" x2="469.42" y2="293.20" stroke="#3a3a3a" stroke-width="0.8"/>
<line x1="472.59" y1="291.30" x2="472.59" y2="293.20" stroke="#3a3a3a" stroke-width="0.8"/>
<line x1="474.84" y1="291.30" x2="474.84" y2="293.20" stroke="#3a3a3a" stroke-width="0.8"/>
<line x1="476.58" y1="291.30" x2="476.58" y2="293.20" stroke="#3a3a3a" stroke-width="0.8"/>
<line x1="478.01" y1="291.30" x2="478.01" y2="293.20" stroke="#3a3a3a" stroke-width="0.8"/>
<line x1="479.21" y1="291.30" x2="479.21" y2="293.20" stroke="#3a3a3a" stroke-width="0.8"/>
<line x1="480.26" y1="291.30" x2="480.26" y2="293.20" stroke="#3a3a3a" stroke-width="0.8"/>
<line x1="481.18" y1="291.30" x2="481.18" y2="293.20" stroke="#3a3a3a" stroke-width="0.8"/>
<line x1="487.42" y1="291.30" x2="487.42" y2="293.20" stroke="#3a3a3a" stroke-width="0.8"/>
<line x1="490.59" y1="291.30" x2="490.59" y2="293.20" stroke="#3a3a3a" stroke-width="0.8"/>
<line x1="492.84" y1="291.30" x2="492.84" y2="293.20" stroke="#3a3a3a" stroke-width="0.8"/>
<line x1="494.58" y1="291.30" x2="494.58" y2="293.20" stroke="#3a3a3a" stroke-width="0.8"/>
<line x1="496.01" y1="291.30" x2="496.01" y2="293.20" stroke="#3a3a3a" stroke-width="0.8"/>
<line x1="497.21" y1="291.30" x2="497.21" y2="293.20" stroke="#3a3a3a" stroke-width="0.8"/>
<line x1="498.26" y1="291.30" x2="498.26" y2="293.20" stroke="#3a3a3a" stroke-width="0.8"/>
<line x1="499.18" y1="291.30" x2="499.18" y2="293.20" stroke="#3a3a3a" stroke-width="0.8"/>
<line x1="505.42" y1="291.30" x2="505.42" y2="293.20" stroke="#3a3a3a" stroke-width="0.8"/>
<line x1="508.59" y1="291.30" x2="508.59" y2="293.20" stroke="#3a3a3a" stroke-width="0.8"/>
<line x1="428.10" y1="291.30" x2="428.10" y2="293.90" stroke="#111" stroke-width="1.6"/>
<line x1="425.10" y1="291.30" x2="425.10" y2="293.20" stroke="#3a3a3a" stroke-width="0.8"/>
<line x1="423.10" y1="291.30" x2="423.10" y2="293.20" stroke="#3a3a3a" stroke-width="0.8"/>
<line x1="421.60" y1="291.30" x2="421.60" y2="293.20" stroke="#3a3a3a" stroke-width="0.8"/>
<path d="M415 211.3H481.2V226.2L449.4 251.4H415" fill="none" stroke="#444" stroke-width="0.8"/>
<path d="M450.29999999999995 291.3V251.9L481.8 227.1H496.5V291.3" fill="none" stroke="#444" stroke-width="0.8"/>
<text x="445.3" y="208.8" font-size="9" text-anchor="middle" fill="#151515" >98%</text>
<text x="441.2" y="288.8" font-size="9" text-anchor="middle" fill="#151515" >2%</text>
<path d="M471.4 388.8h0.01M467.7 397.6h0.01M482.2 393.3h0.01M478.3 402.1h0.01M476.8 389.9h0.01M476.3 382.7h0.01M476.5 387.1h0.01M463.6 381.8h0.01M461.8 394.9h0.01M483.1 385.1h0.01M479.9 393.6h0.01M476.8 381.2h0.01M482.5 384.6h0.01M470.2 394.9h0.01M476.7 376.7h0.01M483.3 371.8h0.01M470.5 415.1h0.01M471.8 391.0h0.01M470.8 400.2h0.01M478.9 377.2h0.01M468.6 386.6h0.01M485.5 392.5h0.01M479.2 386.4h0.01M471.8 390.6h0.01M466.1 401.5h0.01M469.6 377.5h0.01M472.4 378.4h0.01M470.9 392.0h0.01M464.9 399.6h0.01M460.9 391.3h0.01M481.1 385.5h0.01M467.2 393.1h0.01M480.9 391.1h0.01M468.3 378.7h0.01M460.3 371.2h0.01M483.5 391.3h0.01M472.8 394.3h0.01M471.6 385.1h0.01" stroke="#9a9a9a" stroke-width="0.9" stroke-linecap="round" fill="none" opacity="0.85"/>
<path d="M457.7 357.4h0.01M460.7 365.5h0.01M453.8 380.4h0.01M452.1 377.8h0.01" stroke="#ccc" stroke-width="0.9" stroke-linecap="round" fill="none" opacity="0.8"/>
<path d="M415 330.5V424.5H510" fill="none" stroke="#333" stroke-width="0.9"/>
<path d="M415 330.5H510V424.5" fill="none" stroke="#333" stroke-width="0.9"/>
<line x1="411.60" y1="346.00" x2="415.00" y2="346.00" stroke="#333" stroke-width="0.9"/>
<line x1="413.10" y1="357.74" x2="415.00" y2="357.74" stroke="#3a3a3a" stroke-width="0.8"/>
<line x1="413.10" y1="354.78" x2="415.00" y2="354.78" stroke="#3a3a3a" stroke-width="0.8"/>
<line x1="413.10" y1="352.69" x2="415.00" y2="352.69" stroke="#3a3a3a" stroke-width="0.8"/>
<line x1="413.10" y1="351.06" x2="415.00" y2="351.06" stroke="#3a3a3a" stroke-width="0.8"/>
<line x1="413.10" y1="349.73" x2="415.00" y2="349.73" stroke="#3a3a3a" stroke-width="0.8"/>
<line x1="413.10" y1="348.60" x2="415.00" y2="348.60" stroke="#3a3a3a" stroke-width="0.8"/>
<line x1="413.10" y1="347.63" x2="415.00" y2="347.63" stroke="#3a3a3a" stroke-width="0.8"/>
<line x1="413.10" y1="346.77" x2="415.00" y2="346.77" stroke="#3a3a3a" stroke-width="0.8"/>
<line x1="411.60" y1="361.60" x2="415.00" y2="361.60" stroke="#333" stroke-width="0.9"/>
<line x1="413.10" y1="373.34" x2="415.00" y2="373.34" stroke="#3a3a3a" stroke-width="0.8"/>
<line x1="413.10" y1="370.38" x2="415.00" y2="370.38" stroke="#3a3a3a" stroke-width="0.8"/>
<line x1="413.10" y1="368.29" x2="415.00" y2="368.29" stroke="#3a3a3a" stroke-width="0.8"/>
<line x1="413.10" y1="366.66" x2="415.00" y2="366.66" stroke="#3a3a3a" stroke-width="0.8"/>
<line x1="413.10" y1="365.33" x2="415.00" y2="365.33" stroke="#3a3a3a" stroke-width="0.8"/>
<line x1="413.10" y1="364.20" x2="415.00" y2="364.20" stroke="#3a3a3a" stroke-width="0.8"/>
<line x1="413.10" y1="363.23" x2="415.00" y2="363.23" stroke="#3a3a3a" stroke-width="0.8"/>
<line x1="413.10" y1="362.37" x2="415.00" y2="362.37" stroke="#3a3a3a" stroke-width="0.8"/>
<line x1="411.60" y1="378.80" x2="415.00" y2="378.80" stroke="#333" stroke-width="0.9"/>
<line x1="413.10" y1="390.54" x2="415.00" y2="390.54" stroke="#3a3a3a" stroke-width="0.8"/>
<line x1="413.10" y1="387.58" x2="415.00" y2="387.58" stroke="#3a3a3a" stroke-width="0.8"/>
<line x1="413.10" y1="385.49" x2="415.00" y2="385.49" stroke="#3a3a3a" stroke-width="0.8"/>
<line x1="413.10" y1="383.86" x2="415.00" y2="383.86" stroke="#3a3a3a" stroke-width="0.8"/>
<line x1="413.10" y1="382.53" x2="415.00" y2="382.53" stroke="#3a3a3a" stroke-width="0.8"/>
<line x1="413.10" y1="381.40" x2="415.00" y2="381.40" stroke="#3a3a3a" stroke-width="0.8"/>
<line x1="413.10" y1="380.43" x2="415.00" y2="380.43" stroke="#3a3a3a" stroke-width="0.8"/>
<line x1="413.10" y1="379.57" x2="415.00" y2="379.57" stroke="#3a3a3a" stroke-width="0.8"/>
<line x1="411.60" y1="396.00" x2="415.00" y2="396.00" stroke="#333" stroke-width="0.9"/>
<line x1="413.10" y1="407.74" x2="415.00" y2="407.74" stroke="#3a3a3a" stroke-width="0.8"/>
<line x1="413.10" y1="404.78" x2="415.00" y2="404.78" stroke="#3a3a3a" stroke-width="0.8"/>
<line x1="413.10" y1="402.69" x2="415.00" y2="402.69" stroke="#3a3a3a" stroke-width="0.8"/>
<line x1="413.10" y1="401.06" x2="415.00" y2="401.06" stroke="#3a3a3a" stroke-width="0.8"/>
<line x1="413.10" y1="399.73" x2="415.00" y2="399.73" stroke="#3a3a3a" stroke-width="0.8"/>
<line x1="413.10" y1="398.60" x2="415.00" y2="398.60" stroke="#3a3a3a" stroke-width="0.8"/>
<line x1="413.10" y1="397.63" x2="415.00" y2="397.63" stroke="#3a3a3a" stroke-width="0.8"/>
<line x1="413.10" y1="396.77" x2="415.00" y2="396.77" stroke="#3a3a3a" stroke-width="0.8"/>
<line x1="413.10" y1="340.94" x2="415.00" y2="340.94" stroke="#3a3a3a" stroke-width="0.8"/>
<line x1="413.10" y1="337.98" x2="415.00" y2="337.98" stroke="#3a3a3a" stroke-width="0.8"/>
<line x1="413.10" y1="335.89" x2="415.00" y2="335.89" stroke="#3a3a3a" stroke-width="0.8"/>
<line x1="413.10" y1="334.26" x2="415.00" y2="334.26" stroke="#3a3a3a" stroke-width="0.8"/>
<line x1="413.10" y1="332.93" x2="415.00" y2="332.93" stroke="#3a3a3a" stroke-width="0.8"/>
<line x1="413.10" y1="331.80" x2="415.00" y2="331.80" stroke="#3a3a3a" stroke-width="0.8"/>
<line x1="412.40" y1="410.60" x2="415.00" y2="410.60" stroke="#111" stroke-width="1.6"/>
<line x1="413.10" y1="413.60" x2="415.00" y2="413.60" stroke="#3a3a3a" stroke-width="0.8"/>
<line x1="413.10" y1="415.60" x2="415.00" y2="415.60" stroke="#3a3a3a" stroke-width="0.8"/>
<line x1="413.10" y1="417.10" x2="415.00" y2="417.10" stroke="#3a3a3a" stroke-width="0.8"/>
<line x1="446.00" y1="424.50" x2="446.00" y2="427.70" stroke="#333" stroke-width="0.9"/>
<line x1="464.00" y1="424.50" x2="464.00" y2="427.70" stroke="#333" stroke-width="0.9"/>
<line x1="482.00" y1="424.50" x2="482.00" y2="427.70" stroke="#333" stroke-width="0.9"/>
<line x1="500.00" y1="424.50" x2="500.00" y2="427.70" stroke="#333" stroke-width="0.9"/>
<line x1="433.42" y1="424.50" x2="433.42" y2="426.40" stroke="#3a3a3a" stroke-width="0.8"/>
<line x1="436.59" y1="424.50" x2="436.59" y2="426.40" stroke="#3a3a3a" stroke-width="0.8"/>
<line x1="438.84" y1="424.50" x2="438.84" y2="426.40" stroke="#3a3a3a" stroke-width="0.8"/>
<line x1="440.58" y1="424.50" x2="440.58" y2="426.40" stroke="#3a3a3a" stroke-width="0.8"/>
<line x1="442.01" y1="424.50" x2="442.01" y2="426.40" stroke="#3a3a3a" stroke-width="0.8"/>
<line x1="443.21" y1="424.50" x2="443.21" y2="426.40" stroke="#3a3a3a" stroke-width="0.8"/>
<line x1="444.26" y1="424.50" x2="444.26" y2="426.40" stroke="#3a3a3a" stroke-width="0.8"/>
<line x1="445.18" y1="424.50" x2="445.18" y2="426.40" stroke="#3a3a3a" stroke-width="0.8"/>
<line x1="451.42" y1="424.50" x2="451.42" y2="426.40" stroke="#3a3a3a" stroke-width="0.8"/>
<line x1="454.59" y1="424.50" x2="454.59" y2="426.40" stroke="#3a3a3a" stroke-width="0.8"/>
<line x1="456.84" y1="424.50" x2="456.84" y2="426.40" stroke="#3a3a3a" stroke-width="0.8"/>
<line x1="458.58" y1="424.50" x2="458.58" y2="426.40" stroke="#3a3a3a" stroke-width="0.8"/>
<line x1="460.01" y1="424.50" x2="460.01" y2="426.40" stroke="#3a3a3a" stroke-width="0.8"/>
<line x1="461.21" y1="424.50" x2="461.21" y2="426.40" stroke="#3a3a3a" stroke-width="0.8"/>
<line x1="462.26" y1="424.50" x2="462.26" y2="426.40" stroke="#3a3a3a" stroke-width="0.8"/>
<line x1="463.18" y1="424.50" x2="463.18" y2="426.40" stroke="#3a3a3a" stroke-width="0.8"/>
<line x1="469.42" y1="424.50" x2="469.42" y2="426.40" stroke="#3a3a3a" stroke-width="0.8"/>
<line x1="472.59" y1="424.50" x2="472.59" y2="426.40" stroke="#3a3a3a" stroke-width="0.8"/>
<line x1="474.84" y1="424.50" x2="474.84" y2="426.40" stroke="#3a3a3a" stroke-width="0.8"/>
<line x1="476.58" y1="424.50" x2="476.58" y2="426.40" stroke="#3a3a3a" stroke-width="0.8"/>
<line x1="478.01" y1="424.50" x2="478.01" y2="426.40" stroke="#3a3a3a" stroke-width="0.8"/>
<line x1="479.21" y1="424.50" x2="479.21" y2="426.40" stroke="#3a3a3a" stroke-width="0.8"/>
<line x1="480.26" y1="424.50" x2="480.26" y2="426.40" stroke="#3a3a3a" stroke-width="0.8"/>
<line x1="481.18" y1="424.50" x2="481.18" y2="426.40" stroke="#3a3a3a" stroke-width="0.8"/>
<line x1="487.42" y1="424.50" x2="487.42" y2="426.40" stroke="#3a3a3a" stroke-width="0.8"/>
<line x1="490.59" y1="424.50" x2="490.59" y2="426.40" stroke="#3a3a3a" stroke-width="0.8"/>
<line x1="492.84" y1="424.50" x2="492.84" y2="426.40" stroke="#3a3a3a" stroke-width="0.8"/>
<line x1="494.58" y1="424.50" x2="494.58" y2="426.40" stroke="#3a3a3a" stroke-width="0.8"/>
<line x1="496.01" y1="424.50" x2="496.01" y2="426.40" stroke="#3a3a3a" stroke-width="0.8"/>
<line x1="497.21" y1="424.50" x2="497.21" y2="426.40" stroke="#3a3a3a" stroke-width="0.8"/>
<line x1="498.26" y1="424.50" x2="498.26" y2="426.40" stroke="#3a3a3a" stroke-width="0.8"/>
<line x1="499.18" y1="424.50" x2="499.18" y2="426.40" stroke="#3a3a3a" stroke-width="0.8"/>
<line x1="505.42" y1="424.50" x2="505.42" y2="426.40" stroke="#3a3a3a" stroke-width="0.8"/>
<line x1="508.59" y1="424.50" x2="508.59" y2="426.40" stroke="#3a3a3a" stroke-width="0.8"/>
<line x1="428.10" y1="424.50" x2="428.10" y2="427.10" stroke="#111" stroke-width="1.6"/>
<line x1="425.10" y1="424.50" x2="425.10" y2="426.40" stroke="#3a3a3a" stroke-width="0.8"/>
<line x1="423.10" y1="424.50" x2="423.10" y2="426.40" stroke="#3a3a3a" stroke-width="0.8"/>
<line x1="421.60" y1="424.50" x2="421.60" y2="426.40" stroke="#3a3a3a" stroke-width="0.8"/>
<path d="M415 344.3H481.2V359.5L449.4 385H415" fill="none" stroke="#444" stroke-width="0.8"/>
<path d="M450.29999999999995 424.5V385.5L481.8 360.4H496.5V424.5" fill="none" stroke="#444" stroke-width="0.8"/>
<text x="445" y="342.5" font-size="9" text-anchor="middle" fill="#151515" >1%</text>
<text x="438.6" y="420.3" font-size="9" text-anchor="middle" fill="#151515" >99%</text>
<text x="455.8" y="307.8" font-size="9" text-anchor="middle" fill="#151515" >CD45.1+</text>
<text x="456.2" y="441" font-size="9" text-anchor="middle" fill="#151515" >CD45.1+</text>
<path d="M361.5 271.8C383.2 288.7,408.5 290.2,430.2 273.3" fill="none" stroke="#111" stroke-width="1.2"/>
<path d="M423.4 272.5L430.3 273.2L426.7 282.0" fill="none" stroke="#111" stroke-width="1.2" stroke-linejoin="miter"/>
<path d="M360.1 401.8C381.8 418.7,407.1 420.2,428.8 403.3" fill="none" stroke="#111" stroke-width="1.2"/>
<path d="M422.0 402.5L428.9 403.2L425.3 412.0" fill="none" stroke="#111" stroke-width="1.2" stroke-linejoin="miter"/>
</svg>
</body></html>
